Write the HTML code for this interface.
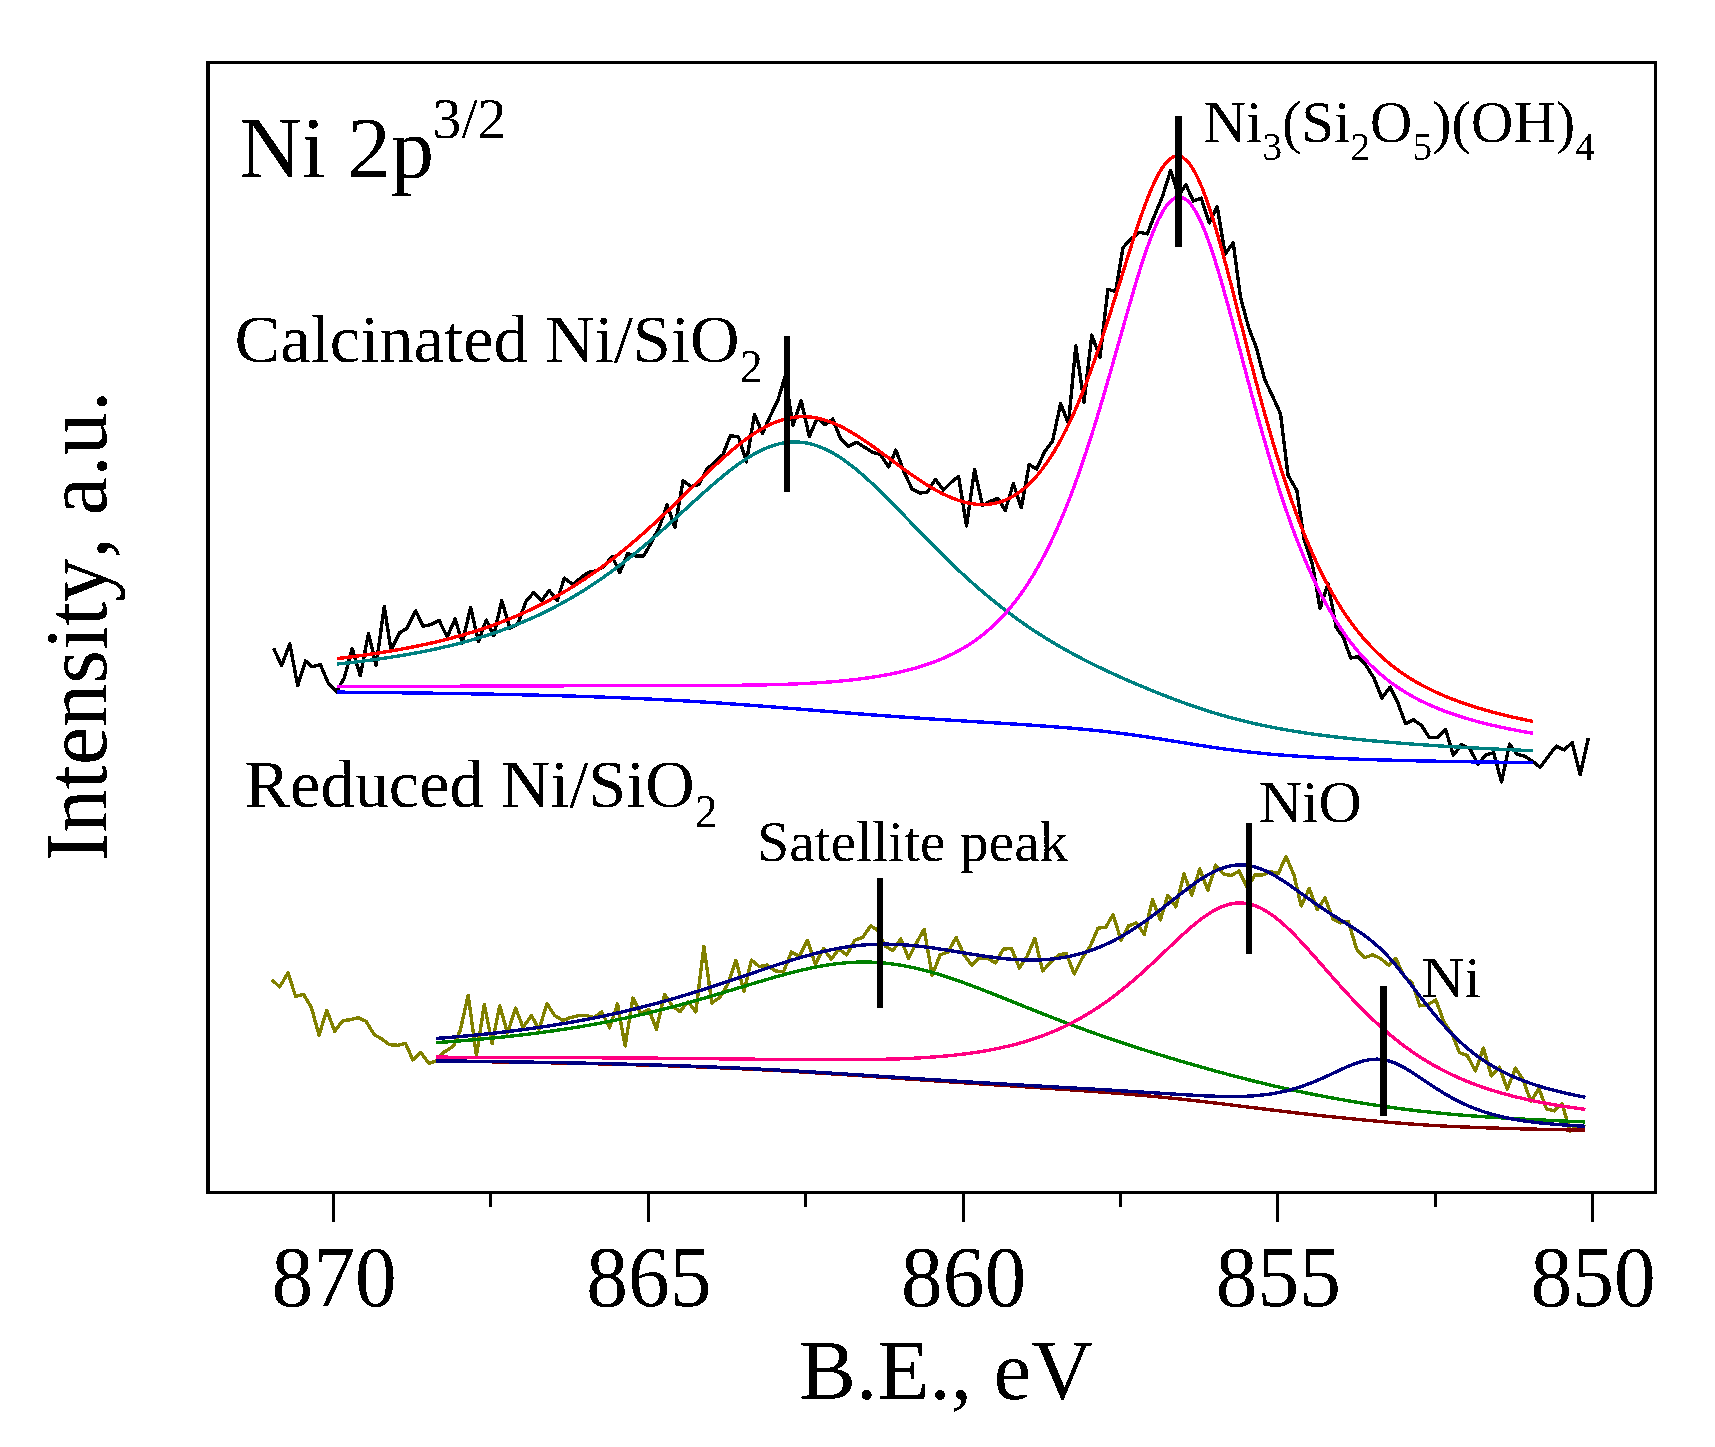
<!DOCTYPE html>
<html><head><meta charset="utf-8"><title>Ni 2p XPS</title>
<style>
html,body{margin:0;padding:0;background:#fff;}
svg{display:block;}
text{filter:url(#bin);font-family:"Liberation Serif","Times New Roman",serif;fill:#000;font-kerning:none;font-variant-ligatures:none;}
.c{shape-rendering:crispEdges;fill:none;stroke-width:3.4;stroke-linejoin:miter;stroke-linecap:butt;}
.n{shape-rendering:crispEdges;fill:none;stroke-width:3.4;stroke-linejoin:round;stroke-linecap:butt;}
.k{fill:#000;stroke:none;}
</style></head><body>
<svg width="1715" height="1447" viewBox="0 0 1715 1447">
<defs><filter id="bin" x="-5%" y="-20%" width="110%" height="140%" color-interpolation-filters="sRGB"><feComponentTransfer><feFuncA type="discrete" tableValues="0 1"/></feComponentTransfer></filter></defs>
<rect x="0" y="0" width="1715" height="1447" fill="#fff"/>
<path class="n" stroke="#000" d="M273.5,648.1 L281.6,665.6 L289.8,643.7 L297.7,685.7 L305.5,660.9 L312.2,666.8 L320.4,664.7 L328.3,683.1 L336.4,691.8 L344.3,677.8 L352.2,648.7 L360.3,675.8 L368.5,633.5 L376.1,665.3 L384.3,606.4 L391.0,650.1 L399.7,632.7 L407.0,628.3 L415.7,610.8 L423.0,626.2 L430.3,624.8 L439.1,620.4 L447.2,637.0 L455.1,619.0 L462.4,642.9 L470.6,607.3 L478.4,641.4 L486.3,620.1 L493.9,635.6 L501.7,600.6 L509.9,628.3 L517.8,623.9 L525.9,601.5 L533.8,592.4 L541.7,600.6 L549.3,590.4 L557.1,600.6 L564.4,578.1 L572.6,584.5 L580.5,578.1 L588.3,572.3 L596.5,570.8 L603.8,566.5 L612.2,556.6 L619.8,572.6 L627.7,553.6 L635.6,556.0 L643.7,556.0 L651.6,542.0 L659.8,525.9 L667.1,505.0 L674.9,527.4 L683.1,480.8 L691.0,486.6 L699.1,484.3 L707.0,469.1 L715.2,461.8 L723.0,454.5 L730.3,435.6 L738.5,437.0 L746.4,461.8 L754.5,414.3 L762.4,433.5 L770.6,415.2 L777.8,400.6 L785.1,376.4 L793.0,425.4 L801.2,400.6 L809.3,436.4 L817.2,418.1 L825.1,424.8 L832.7,419.0 L840.5,438.5 L848.4,446.4 L856.6,442.3 L864.4,447.2 L872.6,452.2 L880.5,454.5 L888.6,466.8 L895.9,450.1 L904.1,472.0 L912.0,488.9 L919.8,493.0 L927.1,492.4 L935.3,479.3 L943.4,490.1 L951.3,482.2 L958.6,476.4 L966.5,525.9 L974.6,469.7 L982.5,505.5 L990.7,501.2 L998.0,498.3 L1005.2,510.5 L1013.4,483.7 L1021.3,507.6 L1029.2,464.7 L1036.7,469.1 L1044.6,451.6 L1052.5,441.4 L1060.6,403.5 L1068.5,423.9 L1075.8,345.9 L1084.0,402.2 L1091.8,335.1 L1100.0,357.0 L1107.9,289.3 L1115.7,291.4 L1123.0,247.6 L1131.2,238.9 L1139.1,232.2 L1147.2,233.9 L1154.5,215.6 L1162.4,196.6 L1170.6,170.4 L1178.4,195.2 L1186.0,185.0 L1193.3,201.0 L1201.2,198.1 L1209.3,222.9 L1217.2,206.8 L1225.1,254.1 L1233.2,242.7 L1240.5,297.2 L1248.7,327.8 L1256.6,348.2 L1264.4,378.8 L1272.6,396.3 L1280.5,413.8 L1288.0,475.2 L1296.8,490.4 L1304.1,539.9 L1312.2,563.3 L1320.1,608.5 L1328.0,583.7 L1336.2,627.4 L1343.4,637.6 L1350.7,658.0 L1358.0,656.6 L1365.9,665.3 L1374.1,678.4 L1381.9,698.0 L1390.1,687.2 L1398.0,703.2 L1405.5,723.6 L1413.4,719.8 L1421.3,725.1 L1429.4,737.6 L1437.3,737.6 L1445.5,729.4 L1453.4,755.1 L1461.5,744.6 L1469.7,748.4 L1478.1,764.4 L1485.4,755.1 L1493.6,752.8 L1501.5,781.9 L1509.6,744.0 L1516.9,754.2 L1525.1,756.3 L1532.9,761.5 L1540.2,767.3 L1548.4,756.3 L1556.3,746.1 L1564.1,749.9 L1572.3,742.6 L1580.2,774.6 L1588.3,738.2"/>
<path class="c" stroke="#0000ff" d="M336.90,692.12 C339.56,692.15 342.22,692.17 344.87,692.20 C347.53,692.22 350.19,692.25 352.85,692.28 C355.51,692.30 358.16,692.33 360.82,692.36 C363.48,692.38 366.14,692.41 368.80,692.44 C371.45,692.47 374.11,692.49 376.77,692.52 C379.43,692.55 382.09,692.58 384.74,692.61 C387.40,692.64 390.06,692.67 392.72,692.70 C395.38,692.73 398.03,692.76 400.69,692.80 C403.35,692.83 406.01,692.86 408.67,692.89 C411.32,692.93 413.98,692.96 416.64,693.00 C419.30,693.03 421.96,693.07 424.61,693.10 C427.27,693.14 429.93,693.17 432.59,693.21 C435.25,693.25 437.90,693.29 440.56,693.32 C443.22,693.36 445.88,693.40 448.54,693.44 C451.19,693.48 453.85,693.52 456.51,693.57 C459.17,693.61 461.83,693.65 464.48,693.69 C467.14,693.74 469.80,693.78 472.46,693.83 C475.12,693.87 477.77,693.92 480.43,693.97 C483.09,694.01 485.75,694.06 488.41,694.11 C491.06,694.16 493.72,694.21 496.38,694.26 C499.04,694.32 501.70,694.37 504.35,694.42 C507.01,694.48 509.67,694.53 512.33,694.59 C514.99,694.64 517.64,694.70 520.30,694.76 C522.96,694.82 525.62,694.88 528.28,694.94 C530.93,695.01 533.59,695.07 536.25,695.13 C538.91,695.20 541.57,695.27 544.22,695.33 C546.88,695.40 549.54,695.47 552.20,695.54 C554.86,695.61 557.51,695.69 560.17,695.76 C562.83,695.84 565.49,695.91 568.15,695.99 C570.80,696.07 573.46,696.15 576.12,696.23 C578.78,696.31 581.44,696.40 584.09,696.48 C586.75,696.57 589.41,696.66 592.07,696.75 C594.73,696.84 597.38,696.93 600.04,697.03 C602.70,697.12 605.36,697.22 608.02,697.32 C610.67,697.42 613.33,697.52 615.99,697.62 C618.65,697.73 621.31,697.83 623.96,697.94 C626.62,698.05 629.28,698.16 631.94,698.28 C634.60,698.39 637.25,698.51 639.91,698.63 C642.57,698.75 645.23,698.87 647.89,698.99 C650.54,699.12 653.20,699.24 655.86,699.38 C658.52,699.51 661.18,699.64 663.83,699.78 C666.49,699.91 669.15,700.05 671.81,700.19 C674.47,700.34 677.12,700.48 679.78,700.63 C682.44,700.78 685.10,700.93 687.76,701.08 C690.41,701.24 693.07,701.39 695.73,701.55 C698.39,701.71 701.05,701.88 703.70,702.04 C706.36,702.21 709.02,702.38 711.68,702.55 C714.34,702.72 716.99,702.90 719.65,703.08 C722.31,703.26 724.97,703.44 727.63,703.62 C730.28,703.80 732.94,703.99 735.60,704.18 C738.26,704.37 740.92,704.56 743.57,704.75 C746.23,704.95 748.89,705.15 751.55,705.34 C754.21,705.54 756.86,705.74 759.52,705.95 C762.18,706.15 764.84,706.36 767.50,706.56 C770.15,706.77 772.81,706.98 775.47,707.19 C778.13,707.40 780.79,707.61 783.44,707.82 C786.10,708.03 788.76,708.25 791.42,708.46 C794.08,708.68 796.73,708.89 799.39,709.11 C802.05,709.32 804.71,709.54 807.37,709.75 C810.02,709.97 812.68,710.19 815.34,710.40 C818.00,710.62 820.66,710.83 823.31,711.05 C825.97,711.26 828.63,711.48 831.29,711.69 C833.95,711.90 836.60,712.11 839.26,712.33 C841.92,712.54 844.58,712.75 847.24,712.96 C849.89,713.16 852.55,713.37 855.21,713.58 C857.87,713.78 860.53,713.99 863.18,714.19 C865.84,714.39 868.50,714.59 871.16,714.79 C873.82,714.99 876.47,715.19 879.13,715.38 C881.79,715.58 884.45,715.77 887.11,715.96 C889.76,716.15 892.42,716.34 895.08,716.53 C897.74,716.72 900.40,716.90 903.05,717.08 C905.71,717.27 908.37,717.45 911.03,717.63 C913.69,717.81 916.34,717.99 919.00,718.16 C921.66,718.34 924.32,718.51 926.98,718.68 C929.63,718.86 932.29,719.03 934.95,719.20 C937.61,719.37 940.27,719.53 942.92,719.70 C945.58,719.87 948.24,720.03 950.90,720.20 C953.56,720.36 956.21,720.52 958.87,720.69 C961.53,720.85 964.19,721.01 966.85,721.17 C969.50,721.33 972.16,721.49 974.82,721.65 C977.48,721.81 980.14,721.97 982.79,722.13 C985.45,722.29 988.11,722.45 990.77,722.61 C993.43,722.78 996.08,722.94 998.74,723.10 C1001.40,723.26 1004.06,723.43 1006.72,723.59 C1009.37,723.76 1012.03,723.92 1014.69,724.09 C1017.35,724.26 1020.01,724.43 1022.66,724.60 C1025.32,724.78 1027.98,724.95 1030.64,725.13 C1033.30,725.31 1035.95,725.49 1038.61,725.68 C1041.27,725.86 1043.93,726.05 1046.59,726.24 C1049.24,726.44 1051.90,726.64 1054.56,726.84 C1057.22,727.04 1059.88,727.25 1062.53,727.46 C1065.19,727.68 1067.85,727.90 1070.51,728.12 C1073.17,728.35 1075.82,728.58 1078.48,728.82 C1081.14,729.06 1083.80,729.31 1086.46,729.57 C1089.11,729.82 1091.77,730.09 1094.43,730.36 C1097.09,730.63 1099.75,730.91 1102.40,731.20 C1105.06,731.49 1107.72,731.79 1110.38,732.10 C1113.04,732.40 1115.69,732.72 1118.35,733.05 C1121.01,733.38 1123.67,733.72 1126.33,734.06 C1128.98,734.41 1131.64,734.77 1134.30,735.14 C1136.96,735.50 1139.62,735.88 1142.27,736.26 C1144.93,736.65 1147.59,737.04 1150.25,737.45 C1152.91,737.85 1155.56,738.26 1158.22,738.67 C1160.88,739.09 1163.54,739.51 1166.20,739.93 C1168.85,740.36 1171.51,740.79 1174.17,741.22 C1176.83,741.65 1179.49,742.08 1182.14,742.51 C1184.80,742.95 1187.46,743.38 1190.12,743.80 C1192.78,744.23 1195.43,744.65 1198.09,745.07 C1200.75,745.49 1203.41,745.90 1206.07,746.31 C1208.72,746.71 1211.38,747.11 1214.04,747.49 C1216.70,747.88 1219.36,748.26 1222.01,748.63 C1224.67,749.00 1227.33,749.35 1229.99,749.70 C1232.65,750.05 1235.30,750.38 1237.96,750.71 C1240.62,751.03 1243.28,751.34 1245.94,751.65 C1248.59,751.95 1251.25,752.24 1253.91,752.52 C1256.57,752.80 1259.23,753.07 1261.88,753.32 C1264.54,753.58 1267.20,753.83 1269.86,754.07 C1272.52,754.31 1275.17,754.54 1277.83,754.75 C1280.49,754.97 1283.15,755.18 1285.81,755.38 C1288.46,755.58 1291.12,755.78 1293.78,755.96 C1296.44,756.15 1299.10,756.32 1301.75,756.49 C1304.41,756.66 1307.07,756.82 1309.73,756.98 C1312.39,757.13 1315.04,757.28 1317.70,757.42 C1320.36,757.56 1323.02,757.70 1325.68,757.83 C1328.33,757.96 1330.99,758.09 1333.65,758.21 C1336.31,758.33 1338.97,758.44 1341.62,758.55 C1344.28,758.66 1346.94,758.77 1349.60,758.87 C1352.26,758.97 1354.91,759.07 1357.57,759.17 C1360.23,759.26 1362.89,759.35 1365.55,759.44 C1368.20,759.53 1370.86,759.61 1373.52,759.69 C1376.18,759.77 1378.84,759.85 1381.49,759.93 C1384.15,760.01 1386.81,760.08 1389.47,760.15 C1392.13,760.22 1394.78,760.29 1397.44,760.36 C1400.10,760.42 1402.76,760.49 1405.42,760.55 C1408.07,760.62 1410.73,760.68 1413.39,760.74 C1416.05,760.80 1418.71,760.85 1421.36,760.91 C1424.02,760.97 1426.68,761.02 1429.34,761.07 C1432.00,761.13 1434.65,761.18 1437.31,761.23 C1439.97,761.28 1442.63,761.33 1445.29,761.38 C1447.94,761.42 1450.60,761.47 1453.26,761.52 C1455.92,761.56 1458.58,761.61 1461.23,761.65 C1463.89,761.70 1466.55,761.74 1469.21,761.78 C1471.87,761.82 1474.52,761.86 1477.18,761.90 C1479.84,761.94 1482.50,761.98 1485.16,762.02 C1487.81,762.06 1490.47,762.10 1493.13,762.13 C1495.79,762.17 1498.45,762.21 1501.10,762.24 C1503.76,762.28 1506.42,762.31 1509.08,762.35 C1511.74,762.38 1514.39,762.41 1517.05,762.45 C1519.71,762.48 1522.37,762.51 1525.03,762.54 C1527.68,762.57 1530.34,762.60 1533.00,762.63"/>
<path class="c" stroke="#008080" d="M336.90,664.07 C339.56,663.79 342.22,663.51 344.87,663.22 C347.53,662.92 350.19,662.62 352.85,662.31 C355.51,662.00 358.16,661.68 360.82,661.35 C363.48,661.02 366.14,660.68 368.80,660.33 C371.45,659.99 374.11,659.63 376.77,659.26 C379.43,658.89 382.09,658.51 384.74,658.12 C387.40,657.73 390.06,657.33 392.72,656.91 C395.38,656.50 398.03,656.07 400.69,655.63 C403.35,655.19 406.01,654.73 408.67,654.26 C411.32,653.80 413.98,653.31 416.64,652.82 C419.30,652.32 421.96,651.81 424.61,651.28 C427.27,650.75 429.93,650.20 432.59,649.64 C435.25,649.08 437.90,648.49 440.56,647.90 C443.22,647.30 445.88,646.68 448.54,646.04 C451.19,645.41 453.85,644.75 456.51,644.07 C459.17,643.39 461.83,642.69 464.48,641.97 C467.14,641.25 469.80,640.51 472.46,639.74 C475.12,638.98 477.77,638.19 480.43,637.37 C483.09,636.56 485.75,635.72 488.41,634.85 C491.06,633.99 493.72,633.10 496.38,632.18 C499.04,631.26 501.70,630.31 504.35,629.33 C507.01,628.36 509.67,627.35 512.33,626.32 C514.99,625.28 517.64,624.22 520.30,623.12 C522.96,622.03 525.62,620.90 528.28,619.74 C530.93,618.58 533.59,617.38 536.25,616.16 C538.91,614.93 541.57,613.67 544.22,612.37 C546.88,611.08 549.54,609.74 552.20,608.38 C554.86,607.01 557.51,605.60 560.17,604.16 C562.83,602.72 565.49,601.24 568.15,599.72 C570.80,598.21 573.46,596.65 576.12,595.06 C578.78,593.46 581.44,591.83 584.09,590.16 C586.75,588.49 589.41,586.78 592.07,585.02 C594.73,583.27 597.38,581.48 600.04,579.65 C602.70,577.82 605.36,575.95 608.02,574.05 C610.67,572.14 613.33,570.19 615.99,568.20 C618.65,566.22 621.31,564.19 623.96,562.13 C626.62,560.07 629.28,557.97 631.94,555.84 C634.60,553.71 637.25,551.54 639.91,549.34 C642.57,547.14 645.23,544.90 647.89,542.64 C650.54,540.38 653.20,538.08 655.86,535.77 C658.52,533.45 661.18,531.10 663.83,528.74 C666.49,526.38 669.15,523.99 671.81,521.60 C674.47,519.20 677.12,516.79 679.78,514.37 C682.44,511.95 685.10,509.53 687.76,507.10 C690.41,504.68 693.07,502.26 695.73,499.85 C698.39,497.45 701.05,495.05 703.70,492.68 C706.36,490.31 709.02,487.96 711.68,485.65 C714.34,483.34 716.99,481.06 719.65,478.84 C722.31,476.62 724.97,474.44 727.63,472.34 C730.28,470.23 732.94,468.19 735.60,466.23 C738.26,464.26 740.92,462.39 743.57,460.60 C746.23,458.82 748.89,457.13 751.55,455.56 C754.21,453.99 756.86,452.53 759.52,451.19 C762.18,449.86 764.84,448.65 767.50,447.59 C770.15,446.52 772.81,445.59 775.47,444.82 C778.13,444.04 780.79,443.42 783.44,442.96 C786.10,442.49 788.76,442.19 791.42,442.05 C794.08,441.91 796.73,441.93 799.39,442.12 C802.05,442.32 804.71,442.67 807.37,443.20 C810.02,443.72 812.68,444.41 815.34,445.25 C818.00,446.10 820.66,447.11 823.31,448.27 C825.97,449.42 828.63,450.73 831.29,452.18 C833.95,453.63 836.60,455.22 839.26,456.93 C841.92,458.65 844.58,460.49 847.24,462.44 C849.89,464.39 852.55,466.46 855.21,468.62 C857.87,470.77 860.53,473.03 863.18,475.36 C865.84,477.70 868.50,480.11 871.16,482.58 C873.82,485.06 876.47,487.60 879.13,490.18 C881.79,492.77 884.45,495.40 887.11,498.07 C889.76,500.74 892.42,503.44 895.08,506.16 C897.74,508.88 900.40,511.63 903.05,514.38 C905.71,517.13 908.37,519.89 911.03,522.65 C913.69,525.41 916.34,528.16 919.00,530.91 C921.66,533.66 924.32,536.40 926.98,539.11 C929.63,541.83 932.29,544.54 934.95,547.21 C937.61,549.89 940.27,552.54 942.92,555.17 C945.58,557.79 948.24,560.39 950.90,562.95 C953.56,565.52 956.21,568.05 958.87,570.54 C961.53,573.03 964.19,575.49 966.85,577.91 C969.50,580.33 972.16,582.72 974.82,585.06 C977.48,587.40 980.14,589.70 982.79,591.96 C985.45,594.23 988.11,596.45 990.77,598.63 C993.43,600.81 996.08,602.95 998.74,605.05 C1001.40,607.15 1004.06,609.21 1006.72,611.22 C1009.37,613.24 1012.03,615.22 1014.69,617.16 C1017.35,619.10 1020.01,620.99 1022.66,622.85 C1025.32,624.72 1027.98,626.54 1030.64,628.32 C1033.30,630.11 1035.95,631.85 1038.61,633.57 C1041.27,635.28 1043.93,636.96 1046.59,638.60 C1049.24,640.24 1051.90,641.85 1054.56,643.43 C1057.22,645.01 1059.88,646.55 1062.53,648.07 C1065.19,649.58 1067.85,651.07 1070.51,652.52 C1073.17,653.98 1075.82,655.41 1078.48,656.82 C1081.14,658.22 1083.80,659.60 1086.46,660.95 C1089.11,662.31 1091.77,663.64 1094.43,664.95 C1097.09,666.26 1099.75,667.54 1102.40,668.81 C1105.06,670.08 1107.72,671.33 1110.38,672.56 C1113.04,673.79 1115.69,675.00 1118.35,676.20 C1121.01,677.39 1123.67,678.57 1126.33,679.74 C1128.98,680.90 1131.64,682.05 1134.30,683.19 C1136.96,684.33 1139.62,685.45 1142.27,686.56 C1144.93,687.67 1147.59,688.77 1150.25,689.85 C1152.91,690.93 1155.56,692.00 1158.22,693.06 C1160.88,694.12 1163.54,695.16 1166.20,696.19 C1168.85,697.22 1171.51,698.24 1174.17,699.24 C1176.83,700.24 1179.49,701.22 1182.14,702.19 C1184.80,703.15 1187.46,704.10 1190.12,705.04 C1192.78,705.97 1195.43,706.88 1198.09,707.78 C1200.75,708.67 1203.41,709.54 1206.07,710.40 C1208.72,711.25 1211.38,712.08 1214.04,712.89 C1216.70,713.70 1219.36,714.49 1222.01,715.26 C1224.67,716.03 1227.33,716.78 1229.99,717.50 C1232.65,718.22 1235.30,718.93 1237.96,719.61 C1240.62,720.29 1243.28,720.95 1245.94,721.59 C1248.59,722.24 1251.25,722.86 1253.91,723.46 C1256.57,724.06 1259.23,724.64 1261.88,725.20 C1264.54,725.77 1267.20,726.31 1269.86,726.84 C1272.52,727.37 1275.17,727.88 1277.83,728.37 C1280.49,728.86 1283.15,729.34 1285.81,729.80 C1288.46,730.27 1291.12,730.71 1293.78,731.15 C1296.44,731.58 1299.10,732.00 1301.75,732.41 C1304.41,732.81 1307.07,733.21 1309.73,733.59 C1312.39,733.97 1315.04,734.34 1317.70,734.70 C1320.36,735.06 1323.02,735.41 1325.68,735.74 C1328.33,736.08 1330.99,736.41 1333.65,736.73 C1336.31,737.05 1338.97,737.36 1341.62,737.66 C1344.28,737.96 1346.94,738.25 1349.60,738.53 C1352.26,738.82 1354.91,739.09 1357.57,739.36 C1360.23,739.63 1362.89,739.90 1365.55,740.15 C1368.20,740.41 1370.86,740.66 1373.52,740.90 C1376.18,741.14 1378.84,741.38 1381.49,741.61 C1384.15,741.84 1386.81,742.07 1389.47,742.29 C1392.13,742.51 1394.78,742.72 1397.44,742.93 C1400.10,743.14 1402.76,743.35 1405.42,743.55 C1408.07,743.75 1410.73,743.95 1413.39,744.14 C1416.05,744.34 1418.71,744.53 1421.36,744.71 C1424.02,744.90 1426.68,745.08 1429.34,745.25 C1432.00,745.43 1434.65,745.61 1437.31,745.78 C1439.97,745.95 1442.63,746.11 1445.29,746.28 C1447.94,746.44 1450.60,746.60 1453.26,746.76 C1455.92,746.92 1458.58,747.07 1461.23,747.23 C1463.89,747.38 1466.55,747.53 1469.21,747.67 C1471.87,747.82 1474.52,747.96 1477.18,748.11 C1479.84,748.25 1482.50,748.39 1485.16,748.52 C1487.81,748.66 1490.47,748.79 1493.13,748.92 C1495.79,749.06 1498.45,749.19 1501.10,749.31 C1503.76,749.44 1506.42,749.57 1509.08,749.69 C1511.74,749.81 1514.39,749.93 1517.05,750.05 C1519.71,750.17 1522.37,750.29 1525.03,750.41 C1527.68,750.52 1530.34,750.64 1533.00,750.75"/>
<path class="c" stroke="#ff00ff" d="M336.90,686.69 C339.56,686.68 342.22,686.67 344.87,686.66 C347.53,686.65 350.19,686.64 352.85,686.63 C355.51,686.62 358.16,686.61 360.82,686.60 C363.48,686.59 366.14,686.58 368.80,686.57 C371.45,686.56 374.11,686.55 376.77,686.54 C379.43,686.53 382.09,686.52 384.74,686.51 C387.40,686.50 390.06,686.49 392.72,686.48 C395.38,686.47 398.03,686.46 400.69,686.45 C403.35,686.44 406.01,686.43 408.67,686.42 C411.32,686.41 413.98,686.40 416.64,686.39 C419.30,686.37 421.96,686.36 424.61,686.35 C427.27,686.34 429.93,686.33 432.59,686.32 C435.25,686.31 437.90,686.30 440.56,686.29 C443.22,686.28 445.88,686.26 448.54,686.25 C451.19,686.24 453.85,686.23 456.51,686.22 C459.17,686.21 461.83,686.20 464.48,686.19 C467.14,686.18 469.80,686.16 472.46,686.15 C475.12,686.14 477.77,686.13 480.43,686.12 C483.09,686.11 485.75,686.10 488.41,686.09 C491.06,686.08 493.72,686.06 496.38,686.05 C499.04,686.04 501.70,686.03 504.35,686.02 C507.01,686.01 509.67,686.00 512.33,685.99 C514.99,685.98 517.64,685.97 520.30,685.96 C522.96,685.95 525.62,685.94 528.28,685.93 C530.93,685.92 533.59,685.91 536.25,685.90 C538.91,685.89 541.57,685.88 544.22,685.87 C546.88,685.86 549.54,685.85 552.20,685.84 C554.86,685.84 557.51,685.83 560.17,685.82 C562.83,685.81 565.49,685.80 568.15,685.79 C570.80,685.79 573.46,685.78 576.12,685.77 C578.78,685.76 581.44,685.76 584.09,685.75 C586.75,685.74 589.41,685.74 592.07,685.73 C594.73,685.72 597.38,685.72 600.04,685.71 C602.70,685.70 605.36,685.70 608.02,685.69 C610.67,685.69 613.33,685.68 615.99,685.68 C618.65,685.67 621.31,685.67 623.96,685.66 C626.62,685.66 629.28,685.65 631.94,685.65 C634.60,685.64 637.25,685.64 639.91,685.63 C642.57,685.63 645.23,685.62 647.89,685.62 C650.54,685.62 653.20,685.61 655.86,685.61 C658.52,685.60 661.18,685.60 663.83,685.59 C666.49,685.59 669.15,685.58 671.81,685.58 C674.47,685.57 677.12,685.57 679.78,685.56 C682.44,685.56 685.10,685.55 687.76,685.54 C690.41,685.54 693.07,685.53 695.73,685.52 C698.39,685.51 701.05,685.50 703.70,685.49 C706.36,685.48 709.02,685.47 711.68,685.45 C714.34,685.44 716.99,685.42 719.65,685.41 C722.31,685.39 724.97,685.37 727.63,685.35 C730.28,685.33 732.94,685.30 735.60,685.28 C738.26,685.25 740.92,685.22 743.57,685.19 C746.23,685.16 748.89,685.12 751.55,685.08 C754.21,685.04 756.86,685.00 759.52,684.95 C762.18,684.90 764.84,684.84 767.50,684.79 C770.15,684.73 772.81,684.66 775.47,684.59 C778.13,684.52 780.79,684.44 783.44,684.36 C786.10,684.28 788.76,684.18 791.42,684.08 C794.08,683.99 796.73,683.88 799.39,683.76 C802.05,683.64 804.71,683.52 807.37,683.38 C810.02,683.24 812.68,683.10 815.34,682.94 C818.00,682.78 820.66,682.61 823.31,682.43 C825.97,682.24 828.63,682.05 831.29,681.84 C833.95,681.63 836.60,681.40 839.26,681.16 C841.92,680.92 844.58,680.66 847.24,680.39 C849.89,680.12 852.55,679.82 855.21,679.51 C857.87,679.20 860.53,678.87 863.18,678.52 C865.84,678.17 868.50,677.80 871.16,677.40 C873.82,677.00 876.47,676.58 879.13,676.14 C881.79,675.69 884.45,675.22 887.11,674.72 C889.76,674.21 892.42,673.68 895.08,673.12 C897.74,672.55 900.40,671.95 903.05,671.32 C905.71,670.69 908.37,670.02 911.03,669.30 C913.69,668.59 916.34,667.84 919.00,667.03 C921.66,666.23 924.32,665.39 926.98,664.48 C929.63,663.58 932.29,662.63 934.95,661.61 C937.61,660.60 940.27,659.52 942.92,658.38 C945.58,657.23 948.24,656.02 950.90,654.73 C953.56,653.44 956.21,652.07 958.87,650.61 C961.53,649.15 964.19,647.60 966.85,645.95 C969.50,644.30 972.16,642.55 974.82,640.69 C977.48,638.83 980.14,636.85 982.79,634.74 C985.45,632.63 988.11,630.39 990.77,628.01 C993.43,625.63 996.08,623.11 998.74,620.42 C1001.40,617.73 1004.06,614.88 1006.72,611.86 C1009.37,608.83 1012.03,605.62 1014.69,602.22 C1017.35,598.82 1020.01,595.22 1022.66,591.41 C1025.32,587.59 1027.98,583.56 1030.64,579.30 C1033.30,575.04 1035.95,570.55 1038.61,565.80 C1041.27,561.06 1043.93,556.07 1046.59,550.81 C1049.24,545.55 1051.90,540.03 1054.56,534.23 C1057.22,528.43 1059.88,522.36 1062.53,516.00 C1065.19,509.64 1067.85,502.99 1070.51,496.06 C1073.17,489.13 1075.82,481.91 1078.48,474.41 C1081.14,466.90 1083.80,459.12 1086.46,451.06 C1089.11,443.01 1091.77,434.69 1094.43,426.13 C1097.09,417.57 1099.75,408.77 1102.40,399.77 C1105.06,390.78 1107.72,381.60 1110.38,372.30 C1113.04,363.00 1115.69,353.57 1118.35,344.13 C1121.01,334.69 1123.67,325.22 1126.33,315.86 C1128.98,306.51 1131.64,297.26 1134.30,288.29 C1136.96,279.32 1139.62,270.62 1142.27,262.38 C1144.93,254.14 1147.59,246.37 1150.25,239.27 C1152.91,232.17 1155.56,225.73 1158.22,220.17 C1160.88,214.61 1163.54,209.91 1166.20,206.25 C1168.85,202.59 1171.51,199.96 1174.17,198.48 C1176.83,196.99 1179.49,196.65 1182.14,197.47 C1184.80,198.29 1187.46,200.28 1190.12,203.39 C1192.78,206.49 1195.43,210.70 1198.09,215.89 C1200.75,221.08 1203.41,227.25 1206.07,234.21 C1208.72,241.17 1211.38,248.92 1214.04,257.25 C1216.70,265.58 1219.36,274.50 1222.01,283.79 C1224.67,293.08 1227.33,302.76 1229.99,312.62 C1232.65,322.48 1235.30,332.54 1237.96,342.64 C1240.62,352.73 1243.28,362.87 1245.94,372.93 C1248.59,382.98 1251.25,392.96 1253.91,402.76 C1256.57,412.57 1259.23,422.21 1261.88,431.61 C1264.54,441.02 1267.20,450.20 1269.86,459.10 C1272.52,468.01 1275.17,476.64 1277.83,484.99 C1280.49,493.33 1283.15,501.38 1285.81,509.13 C1288.46,516.88 1291.12,524.33 1293.78,531.47 C1296.44,538.61 1299.10,545.45 1301.75,552.00 C1304.41,558.54 1307.07,564.79 1309.73,570.75 C1312.39,576.72 1315.04,582.40 1317.70,587.80 C1320.36,593.21 1323.02,598.35 1325.68,603.24 C1328.33,608.12 1330.99,612.75 1333.65,617.15 C1336.31,621.55 1338.97,625.71 1341.62,629.66 C1344.28,633.60 1346.94,637.33 1349.60,640.87 C1352.26,644.40 1354.91,647.74 1357.57,650.90 C1360.23,654.06 1362.89,657.05 1365.55,659.87 C1368.20,662.69 1370.86,665.36 1373.52,667.88 C1376.18,670.40 1378.84,672.78 1381.49,675.03 C1384.15,677.28 1386.81,679.41 1389.47,681.43 C1392.13,683.44 1394.78,685.34 1397.44,687.15 C1400.10,688.96 1402.76,690.66 1405.42,692.28 C1408.07,693.90 1410.73,695.44 1413.39,696.90 C1416.05,698.36 1418.71,699.74 1421.36,701.06 C1424.02,702.38 1426.68,703.63 1429.34,704.83 C1432.00,706.02 1434.65,707.16 1437.31,708.25 C1439.97,709.34 1442.63,710.37 1445.29,711.36 C1447.94,712.36 1450.60,713.30 1453.26,714.21 C1455.92,715.12 1458.58,715.99 1461.23,716.83 C1463.89,717.66 1466.55,718.47 1469.21,719.24 C1471.87,720.01 1474.52,720.75 1477.18,721.46 C1479.84,722.17 1482.50,722.86 1485.16,723.52 C1487.81,724.19 1490.47,724.82 1493.13,725.44 C1495.79,726.06 1498.45,726.65 1501.10,727.22 C1503.76,727.80 1506.42,728.35 1509.08,728.89 C1511.74,729.43 1514.39,729.95 1517.05,730.45 C1519.71,730.96 1522.37,731.44 1525.03,731.92 C1527.68,732.39 1530.34,732.84 1533.00,733.29"/>
<path class="c" stroke="#ff0000" d="M336.90,658.64 C339.56,658.33 342.22,658.01 344.87,657.68 C347.53,657.35 350.19,657.01 352.85,656.66 C355.51,656.32 358.16,655.96 360.82,655.60 C363.48,655.23 366.14,654.86 368.80,654.47 C371.45,654.08 374.11,653.69 376.77,653.28 C379.43,652.87 382.09,652.45 384.74,652.02 C387.40,651.59 390.06,651.15 392.72,650.69 C395.38,650.23 398.03,649.76 400.69,649.28 C403.35,648.80 406.01,648.30 408.67,647.79 C411.32,647.28 413.98,646.75 416.64,646.20 C419.30,645.66 421.96,645.10 424.61,644.53 C427.27,643.95 429.93,643.36 432.59,642.75 C435.25,642.14 437.90,641.51 440.56,640.86 C443.22,640.21 445.88,639.54 448.54,638.85 C451.19,638.16 453.85,637.46 456.51,636.73 C459.17,635.99 461.83,635.24 464.48,634.47 C467.14,633.69 469.80,632.89 472.46,632.07 C475.12,631.25 477.77,630.40 480.43,629.53 C483.09,628.65 485.75,627.75 488.41,626.83 C491.06,625.90 493.72,624.95 496.38,623.97 C499.04,622.98 501.70,621.97 504.35,620.93 C507.01,619.89 509.67,618.82 512.33,617.72 C514.99,616.62 517.64,615.49 520.30,614.32 C522.96,613.16 525.62,611.96 528.28,610.72 C530.93,609.49 533.59,608.23 536.25,606.92 C538.91,605.62 541.57,604.28 544.22,602.91 C546.88,601.54 549.54,600.13 552.20,598.68 C554.86,597.23 557.51,595.74 560.17,594.22 C562.83,592.69 565.49,591.13 568.15,589.53 C570.80,587.92 573.46,586.28 576.12,584.60 C578.78,582.91 581.44,581.19 584.09,579.42 C586.75,577.66 589.41,575.85 592.07,574.00 C594.73,572.16 597.38,570.27 600.04,568.34 C602.70,566.41 605.36,564.43 608.02,562.42 C610.67,560.41 613.33,558.35 615.99,556.26 C618.65,554.16 621.31,552.03 623.96,549.85 C626.62,547.68 629.28,545.46 631.94,543.21 C634.60,540.96 637.25,538.67 639.91,536.34 C642.57,534.02 645.23,531.66 647.89,529.27 C650.54,526.87 653.20,524.45 655.86,522.00 C658.52,519.54 661.18,517.06 663.83,514.56 C666.49,512.05 669.15,509.53 671.81,506.98 C674.47,504.44 677.12,501.87 679.78,499.30 C682.44,496.73 685.10,494.15 687.76,491.56 C690.41,488.98 693.07,486.40 695.73,483.82 C698.39,481.24 701.05,478.67 703.70,476.12 C706.36,473.58 709.02,471.05 711.68,468.55 C714.34,466.05 716.99,463.59 719.65,461.17 C722.31,458.75 724.97,456.38 727.63,454.07 C730.28,451.75 732.94,449.50 735.60,447.32 C738.26,445.15 740.92,443.05 743.57,441.04 C746.23,439.03 748.89,437.11 751.55,435.30 C754.21,433.48 756.86,431.78 759.52,430.19 C762.18,428.61 764.84,427.14 767.50,425.81 C770.15,424.48 772.81,423.28 775.47,422.22 C778.13,421.17 780.79,420.25 783.44,419.49 C786.10,418.73 788.76,418.12 791.42,417.67 C794.08,417.22 796.73,416.92 799.39,416.78 C802.05,416.64 804.71,416.65 807.37,416.82 C810.02,416.99 812.68,417.32 815.34,417.79 C818.00,418.26 820.66,418.89 823.31,419.65 C825.97,420.41 828.63,421.31 831.29,422.33 C833.95,423.36 836.60,424.51 839.26,425.77 C841.92,427.03 844.58,428.41 847.24,429.88 C849.89,431.35 852.55,432.91 855.21,434.55 C857.87,436.19 860.53,437.91 863.18,439.69 C865.84,441.47 868.50,443.31 871.16,445.19 C873.82,447.07 876.47,448.99 879.13,450.94 C881.79,452.88 884.45,454.85 887.11,456.82 C889.76,458.80 892.42,460.78 895.08,462.75 C897.74,464.72 900.40,466.68 903.05,468.61 C905.71,470.55 908.37,472.46 911.03,474.32 C913.69,476.19 916.34,478.01 919.00,479.78 C921.66,481.56 924.32,483.27 926.98,484.92 C929.63,486.56 932.29,488.14 934.95,489.63 C937.61,491.12 940.27,492.53 942.92,493.85 C945.58,495.16 948.24,496.38 950.90,497.49 C953.56,498.59 956.21,499.59 958.87,500.46 C961.53,501.34 964.19,502.09 966.85,502.70 C969.50,503.31 972.16,503.78 974.82,504.09 C977.48,504.41 980.14,504.58 982.79,504.57 C985.45,504.56 988.11,504.39 990.77,504.03 C993.43,503.67 996.08,503.12 998.74,502.37 C1001.40,501.62 1004.06,500.66 1006.72,499.49 C1009.37,498.32 1012.03,496.92 1014.69,495.29 C1017.35,493.66 1020.01,491.78 1022.66,489.66 C1025.32,487.53 1027.98,485.15 1030.64,482.49 C1033.30,479.84 1035.95,476.91 1038.61,473.69 C1041.27,470.47 1043.93,466.97 1046.59,463.16 C1049.24,459.35 1051.90,455.24 1054.56,450.82 C1057.22,446.40 1059.88,441.66 1062.53,436.60 C1065.19,431.54 1067.85,426.16 1070.51,420.46 C1073.17,414.76 1075.82,408.74 1078.48,402.40 C1081.14,396.06 1083.80,389.40 1086.46,382.45 C1089.11,375.49 1091.77,368.24 1094.43,360.72 C1097.09,353.19 1099.75,345.40 1102.40,337.39 C1105.06,329.37 1107.72,321.14 1110.38,312.76 C1113.04,304.38 1115.69,295.85 1118.35,287.28 C1121.01,278.70 1123.67,270.08 1126.33,261.54 C1128.98,253.00 1131.64,244.55 1134.30,236.34 C1136.96,228.14 1139.62,220.19 1142.27,212.68 C1144.93,205.16 1147.59,198.09 1150.25,191.67 C1152.91,185.25 1155.56,179.48 1158.22,174.56 C1160.88,169.64 1163.54,165.56 1166.20,162.51 C1168.85,159.45 1171.51,157.41 1174.17,156.49 C1176.83,155.58 1179.49,155.78 1182.14,157.14 C1184.80,158.50 1187.46,161.01 1190.12,164.62 C1192.78,168.23 1195.43,172.93 1198.09,178.60 C1200.75,184.26 1203.41,190.89 1206.07,198.30 C1208.72,205.71 1211.38,213.89 1214.04,222.65 C1216.70,231.40 1219.36,240.73 1222.01,250.42 C1224.67,260.12 1227.33,270.18 1229.99,280.42 C1232.65,290.66 1235.30,301.09 1237.96,311.54 C1240.62,322.00 1243.28,332.48 1245.94,342.88 C1248.59,353.27 1251.25,363.58 1253.91,373.70 C1256.57,383.83 1259.23,393.78 1261.88,403.49 C1264.54,413.20 1267.20,422.67 1269.86,431.87 C1272.52,441.07 1275.17,449.98 1277.83,458.60 C1280.49,467.22 1283.15,475.54 1285.81,483.55 C1288.46,491.56 1291.12,499.26 1293.78,506.66 C1296.44,514.05 1299.10,521.13 1301.75,527.91 C1304.41,534.70 1307.07,541.18 1309.73,547.37 C1312.39,553.56 1315.04,559.46 1317.70,565.08 C1320.36,570.71 1323.02,576.06 1325.68,581.15 C1328.33,586.24 1330.99,591.08 1333.65,595.67 C1336.31,600.27 1338.97,604.62 1341.62,608.76 C1344.28,612.90 1346.94,616.82 1349.60,620.53 C1352.26,624.25 1354.91,627.77 1357.57,631.10 C1360.23,634.44 1362.89,637.59 1365.55,640.58 C1368.20,643.57 1370.86,646.40 1373.52,649.08 C1376.18,651.77 1378.84,654.30 1381.49,656.71 C1384.15,659.12 1386.81,661.40 1389.47,663.56 C1392.13,665.73 1394.78,667.78 1397.44,669.73 C1400.10,671.67 1402.76,673.52 1405.42,675.28 C1408.07,677.04 1410.73,678.71 1413.39,680.31 C1416.05,681.90 1418.71,683.42 1421.36,684.86 C1424.02,686.31 1426.68,687.69 1429.34,689.01 C1432.00,690.33 1434.65,691.59 1437.31,692.80 C1439.97,694.00 1442.63,695.16 1445.29,696.26 C1447.94,697.37 1450.60,698.43 1453.26,699.46 C1455.92,700.48 1458.58,701.46 1461.23,702.40 C1463.89,703.35 1466.55,704.25 1469.21,705.13 C1471.87,706.01 1474.52,706.85 1477.18,707.66 C1479.84,708.48 1482.50,709.26 1485.16,710.03 C1487.81,710.79 1490.47,711.52 1493.13,712.23 C1495.79,712.94 1498.45,713.63 1501.10,714.30 C1503.76,714.96 1506.42,715.61 1509.08,716.24 C1511.74,716.86 1514.39,717.47 1517.05,718.06 C1519.71,718.65 1522.37,719.22 1525.03,719.78 C1527.68,720.34 1530.34,720.88 1533.00,721.40"/>
<path class="n" stroke="#808000" d="M272.0,979.7 L279.6,987.0 L288.0,973.0 L295.6,996.3 L303.5,994.3 L311.4,1007.4 L319.0,1035.1 L326.8,1010.3 L334.7,1031.3 L342.9,1020.5 L350.7,1019.7 L358.3,1017.6 L366.2,1021.4 L374.1,1034.5 L381.6,1038.9 L389.5,1044.7 L397.7,1045.3 L405.5,1043.3 L412.8,1059.9 L420.7,1052.6 L428.9,1063.4 L435.6,1061.3 L443.4,1052.6 L453.6,1045.9 L460.3,1030.1 L468.2,995.2 L476.4,1055.5 L484.3,1004.5 L492.1,1043.8 L499.7,1005.9 L507.6,1033.1 L515.5,1008.0 L523.0,1027.2 L531.5,1015.6 L539.1,1029.3 L546.9,1003.6 L554.8,1015.6 L563.0,1020.5 L570.3,1017.6 L578.4,1015.6 L586.3,1015.6 L594.2,1017.6 L601.7,1011.8 L609.6,1027.8 L617.5,1003.9 L625.1,1045.9 L632.9,998.1 L640.8,1013.2 L649.0,1009.7 L656.4,1029.3 L664.6,994.3 L672.4,1005.9 L680.0,1011.8 L687.9,1001.6 L695.8,1011.8 L703.9,946.2 L711.8,1003.0 L720.0,997.2 L727.8,984.1 L736.0,960.2 L743.9,991.4 L751.5,960.2 L759.3,966.6 L767.2,965.1 L775.4,971.0 L783.5,971.8 L791.4,952.0 L799.3,956.4 L807.4,940.3 L815.3,964.3 L823.5,948.5 L831.3,959.3 L838.9,949.1 L846.8,954.9 L854.7,940.3 L862.8,937.4 L870.7,925.8 L877.4,930.1 L885.3,946.2 L892.9,950.6 L900.7,938.9 L908.6,958.4 L916.2,943.3 L924.1,929.3 L932.2,975.3 L940.1,954.9 L948.0,952.0 L956.1,937.4 L964.0,954.9 L971.6,965.1 L979.4,957.8 L987.3,957.8 L995.5,963.1 L1003.4,949.1 L1011.5,948.5 L1019.4,968.0 L1027.0,956.4 L1034.8,938.3 L1042.7,971.0 L1050.9,962.2 L1058.7,954.9 L1066.3,953.5 L1074.2,973.9 L1082.4,957.8 L1090.2,946.2 L1098.1,928.1 L1105.8,927.2 L1113.1,914.7 L1121.0,940.3 L1128.6,925.8 L1136.4,922.9 L1144.3,934.5 L1152.5,899.5 L1160.3,919.9 L1167.9,895.2 L1175.8,906.8 L1184.0,873.9 L1191.8,895.2 L1199.7,868.9 L1207.9,890.2 L1215.7,865.1 L1223.3,873.9 L1231.2,875.6 L1239.1,871.0 L1247.2,887.9 L1255.1,874.8 L1262.7,874.8 L1270.6,871.8 L1278.4,873.3 L1286.0,856.4 L1293.9,874.8 L1301.2,905.9 L1309.3,888.5 L1317.2,909.7 L1325.1,898.1 L1333.2,919.4 L1340.5,922.9 L1348.4,921.4 L1356.6,949.1 L1364.4,957.8 L1372.6,954.9 L1380.5,958.4 L1388.6,965.1 L1395.9,958.4 L1404.1,976.8 L1412.0,982.6 L1419.8,1005.9 L1428.0,1004.5 L1435.9,1000.1 L1444.0,1022.0 L1451.9,1033.6 L1459.5,1052.6 L1467.3,1055.5 L1475.5,1071.0 L1483.4,1048.2 L1491.3,1075.9 L1499.4,1067.2 L1507.3,1089.0 L1515.5,1068.0 L1523.3,1080.3 L1530.9,1101.6 L1538.8,1088.5 L1546.6,1108.9 L1554.2,1110.9 L1562.1,1103.6 L1570.0,1131.3 L1578.1,1125.5 L1585.4,1126.9"/>
<path class="c" stroke="#800000" d="M436.20,1061.08 C438.86,1061.11 441.52,1061.14 444.18,1061.17 C446.84,1061.21 449.50,1061.24 452.16,1061.27 C454.82,1061.31 457.48,1061.34 460.14,1061.37 C462.80,1061.41 465.46,1061.44 468.12,1061.48 C470.78,1061.51 473.44,1061.55 476.10,1061.58 C478.76,1061.62 481.42,1061.66 484.08,1061.70 C486.74,1061.73 489.40,1061.77 492.06,1061.81 C494.72,1061.85 497.38,1061.89 500.04,1061.93 C502.70,1061.97 505.36,1062.01 508.02,1062.05 C510.69,1062.10 513.35,1062.14 516.01,1062.18 C518.67,1062.22 521.33,1062.27 523.99,1062.31 C526.65,1062.36 529.31,1062.40 531.97,1062.45 C534.63,1062.50 537.29,1062.54 539.95,1062.59 C542.61,1062.64 545.27,1062.69 547.93,1062.74 C550.59,1062.79 553.25,1062.84 555.91,1062.89 C558.57,1062.95 561.23,1063.00 563.89,1063.05 C566.55,1063.11 569.21,1063.16 571.87,1063.22 C574.53,1063.28 577.19,1063.33 579.85,1063.39 C582.51,1063.45 585.17,1063.51 587.83,1063.57 C590.49,1063.63 593.15,1063.69 595.81,1063.76 C598.47,1063.82 601.13,1063.88 603.79,1063.95 C606.45,1064.02 609.11,1064.08 611.77,1064.15 C614.43,1064.22 617.09,1064.29 619.75,1064.36 C622.41,1064.43 625.07,1064.50 627.73,1064.58 C630.39,1064.65 633.05,1064.73 635.71,1064.80 C638.37,1064.88 641.03,1064.96 643.69,1065.04 C646.35,1065.12 649.01,1065.20 651.67,1065.28 C654.34,1065.37 657.00,1065.45 659.66,1065.54 C662.32,1065.62 664.98,1065.71 667.64,1065.80 C670.30,1065.89 672.96,1065.98 675.62,1066.08 C678.28,1066.17 680.94,1066.26 683.60,1066.36 C686.26,1066.46 688.92,1066.56 691.58,1066.66 C694.24,1066.76 696.90,1066.86 699.56,1066.96 C702.22,1067.07 704.88,1067.18 707.54,1067.28 C710.20,1067.39 712.86,1067.50 715.52,1067.62 C718.18,1067.73 720.84,1067.84 723.50,1067.96 C726.16,1068.07 728.82,1068.19 731.48,1068.31 C734.14,1068.43 736.80,1068.56 739.46,1068.68 C742.12,1068.81 744.78,1068.93 747.44,1069.06 C750.10,1069.19 752.76,1069.32 755.42,1069.46 C758.08,1069.59 760.74,1069.73 763.40,1069.86 C766.06,1070.00 768.72,1070.14 771.38,1070.28 C774.04,1070.43 776.70,1070.57 779.36,1070.72 C782.02,1070.86 784.68,1071.01 787.34,1071.16 C790.00,1071.31 792.66,1071.46 795.33,1071.62 C797.99,1071.77 800.65,1071.93 803.31,1072.08 C805.97,1072.24 808.63,1072.40 811.29,1072.56 C813.95,1072.73 816.61,1072.89 819.27,1073.06 C821.93,1073.22 824.59,1073.39 827.25,1073.56 C829.91,1073.72 832.57,1073.89 835.23,1074.07 C837.89,1074.24 840.55,1074.41 843.21,1074.58 C845.87,1074.76 848.53,1074.93 851.19,1075.11 C853.85,1075.29 856.51,1075.46 859.17,1075.64 C861.83,1075.82 864.49,1076.00 867.15,1076.18 C869.81,1076.36 872.47,1076.54 875.13,1076.72 C877.79,1076.90 880.45,1077.09 883.11,1077.27 C885.77,1077.45 888.43,1077.63 891.09,1077.82 C893.75,1078.00 896.41,1078.18 899.07,1078.37 C901.73,1078.55 904.39,1078.74 907.05,1078.92 C909.71,1079.10 912.37,1079.29 915.03,1079.47 C917.69,1079.65 920.35,1079.84 923.01,1080.02 C925.67,1080.20 928.33,1080.38 930.99,1080.57 C933.65,1080.75 936.31,1080.93 938.98,1081.11 C941.64,1081.29 944.30,1081.47 946.96,1081.65 C949.62,1081.83 952.28,1082.01 954.94,1082.19 C957.60,1082.37 960.26,1082.55 962.92,1082.73 C965.58,1082.91 968.24,1083.09 970.90,1083.26 C973.56,1083.44 976.22,1083.62 978.88,1083.79 C981.54,1083.97 984.20,1084.15 986.86,1084.32 C989.52,1084.50 992.18,1084.67 994.84,1084.85 C997.50,1085.02 1000.16,1085.19 1002.82,1085.37 C1005.48,1085.54 1008.14,1085.72 1010.80,1085.89 C1013.46,1086.06 1016.12,1086.24 1018.78,1086.41 C1021.44,1086.59 1024.10,1086.76 1026.76,1086.93 C1029.42,1087.11 1032.08,1087.28 1034.74,1087.46 C1037.40,1087.63 1040.06,1087.81 1042.72,1087.98 C1045.38,1088.16 1048.04,1088.33 1050.70,1088.51 C1053.36,1088.69 1056.02,1088.87 1058.68,1089.05 C1061.34,1089.22 1064.00,1089.41 1066.66,1089.59 C1069.32,1089.77 1071.98,1089.95 1074.64,1090.14 C1077.30,1090.32 1079.96,1090.51 1082.62,1090.70 C1085.29,1090.89 1087.95,1091.08 1090.61,1091.27 C1093.27,1091.46 1095.93,1091.66 1098.59,1091.86 C1101.25,1092.05 1103.91,1092.25 1106.57,1092.46 C1109.23,1092.66 1111.89,1092.87 1114.55,1093.08 C1117.21,1093.29 1119.87,1093.50 1122.53,1093.71 C1125.19,1093.93 1127.85,1094.15 1130.51,1094.37 C1133.17,1094.60 1135.83,1094.83 1138.49,1095.06 C1141.15,1095.29 1143.81,1095.53 1146.47,1095.77 C1149.13,1096.01 1151.79,1096.25 1154.45,1096.50 C1157.11,1096.75 1159.77,1097.00 1162.43,1097.26 C1165.09,1097.52 1167.75,1097.79 1170.41,1098.05 C1173.07,1098.32 1175.73,1098.60 1178.39,1098.87 C1181.05,1099.15 1183.71,1099.44 1186.37,1099.72 C1189.03,1100.01 1191.69,1100.30 1194.35,1100.60 C1197.01,1100.90 1199.67,1101.20 1202.33,1101.51 C1204.99,1101.81 1207.65,1102.12 1210.31,1102.44 C1212.97,1102.75 1215.63,1103.07 1218.29,1103.39 C1220.95,1103.71 1223.61,1104.03 1226.28,1104.36 C1228.94,1104.68 1231.60,1105.01 1234.26,1105.34 C1236.92,1105.67 1239.58,1106.00 1242.24,1106.33 C1244.90,1106.66 1247.56,1106.99 1250.22,1107.32 C1252.88,1107.65 1255.54,1107.98 1258.20,1108.31 C1260.86,1108.64 1263.52,1108.97 1266.18,1109.30 C1268.84,1109.63 1271.50,1109.95 1274.16,1110.27 C1276.82,1110.60 1279.48,1110.92 1282.14,1111.23 C1284.80,1111.55 1287.46,1111.86 1290.12,1112.17 C1292.78,1112.49 1295.44,1112.79 1298.10,1113.10 C1300.76,1113.40 1303.42,1113.70 1306.08,1114.00 C1308.74,1114.30 1311.40,1114.59 1314.06,1114.88 C1316.72,1115.18 1319.38,1115.46 1322.04,1115.75 C1324.70,1116.03 1327.36,1116.32 1330.02,1116.59 C1332.68,1116.87 1335.34,1117.15 1338.00,1117.42 C1340.66,1117.70 1343.32,1117.97 1345.98,1118.23 C1348.64,1118.50 1351.30,1118.76 1353.96,1119.03 C1356.62,1119.29 1359.28,1119.55 1361.94,1119.80 C1364.60,1120.06 1367.26,1120.31 1369.92,1120.56 C1372.59,1120.81 1375.25,1121.05 1377.91,1121.29 C1380.57,1121.53 1383.23,1121.77 1385.89,1122.00 C1388.55,1122.23 1391.21,1122.45 1393.87,1122.67 C1396.53,1122.89 1399.19,1123.11 1401.85,1123.31 C1404.51,1123.52 1407.17,1123.72 1409.83,1123.91 C1412.49,1124.11 1415.15,1124.29 1417.81,1124.47 C1420.47,1124.65 1423.13,1124.83 1425.79,1124.99 C1428.45,1125.16 1431.11,1125.32 1433.77,1125.47 C1436.43,1125.63 1439.09,1125.77 1441.75,1125.92 C1444.41,1126.06 1447.07,1126.19 1449.73,1126.32 C1452.39,1126.45 1455.05,1126.58 1457.71,1126.70 C1460.37,1126.82 1463.03,1126.93 1465.69,1127.04 C1468.35,1127.15 1471.01,1127.26 1473.67,1127.36 C1476.33,1127.46 1478.99,1127.56 1481.65,1127.65 C1484.31,1127.75 1486.97,1127.84 1489.63,1127.93 C1492.29,1128.01 1494.95,1128.10 1497.61,1128.18 C1500.27,1128.26 1502.93,1128.34 1505.59,1128.41 C1508.25,1128.49 1510.91,1128.56 1513.58,1128.64 C1516.24,1128.71 1518.90,1128.78 1521.56,1128.84 C1524.22,1128.91 1526.88,1128.97 1529.54,1129.04 C1532.20,1129.10 1534.86,1129.16 1537.52,1129.22 C1540.18,1129.28 1542.84,1129.34 1545.50,1129.40 C1548.16,1129.45 1550.82,1129.51 1553.48,1129.56 C1556.14,1129.62 1558.80,1129.67 1561.46,1129.72 C1564.12,1129.77 1566.78,1129.82 1569.44,1129.87 C1572.10,1129.92 1574.76,1129.97 1577.42,1130.02 C1580.08,1130.06 1582.74,1130.11 1585.40,1130.16"/>
<path class="c" stroke="#008000" d="M436.20,1042.60 C438.86,1042.42 441.52,1042.24 444.18,1042.05 C446.84,1041.86 449.50,1041.67 452.16,1041.47 C454.82,1041.27 457.48,1041.07 460.14,1040.86 C462.80,1040.66 465.46,1040.44 468.12,1040.22 C470.78,1040.00 473.44,1039.78 476.10,1039.55 C478.76,1039.32 481.42,1039.08 484.08,1038.83 C486.74,1038.59 489.40,1038.34 492.06,1038.08 C494.72,1037.83 497.38,1037.56 500.04,1037.29 C502.70,1037.02 505.36,1036.74 508.02,1036.46 C510.69,1036.17 513.35,1035.88 516.01,1035.58 C518.67,1035.28 521.33,1034.97 523.99,1034.66 C526.65,1034.34 529.31,1034.02 531.97,1033.68 C534.63,1033.35 537.29,1033.01 539.95,1032.66 C542.61,1032.31 545.27,1031.95 547.93,1031.59 C550.59,1031.22 553.25,1030.84 555.91,1030.46 C558.57,1030.07 561.23,1029.68 563.89,1029.27 C566.55,1028.87 569.21,1028.46 571.87,1028.03 C574.53,1027.61 577.19,1027.18 579.85,1026.73 C582.51,1026.29 585.17,1025.83 587.83,1025.37 C590.49,1024.91 593.15,1024.43 595.81,1023.95 C598.47,1023.46 601.13,1022.96 603.79,1022.46 C606.45,1021.95 609.11,1021.43 611.77,1020.90 C614.43,1020.38 617.09,1019.84 619.75,1019.29 C622.41,1018.73 625.07,1018.17 627.73,1017.60 C630.39,1017.03 633.05,1016.44 635.71,1015.85 C638.37,1015.25 641.03,1014.64 643.69,1014.03 C646.35,1013.41 649.01,1012.78 651.67,1012.14 C654.34,1011.50 657.00,1010.85 659.66,1010.18 C662.32,1009.52 664.98,1008.85 667.64,1008.16 C670.30,1007.48 672.96,1006.79 675.62,1006.08 C678.28,1005.38 680.94,1004.66 683.60,1003.94 C686.26,1003.21 688.92,1002.48 691.58,1001.74 C694.24,1000.99 696.90,1000.24 699.56,999.48 C702.22,998.72 704.88,997.96 707.54,997.18 C710.20,996.41 712.86,995.63 715.52,994.84 C718.18,994.05 720.84,993.26 723.50,992.47 C726.16,991.67 728.82,990.87 731.48,990.07 C734.14,989.26 736.80,988.46 739.46,987.66 C742.12,986.85 744.78,986.05 747.44,985.24 C750.10,984.44 752.76,983.64 755.42,982.85 C758.08,982.05 760.74,981.26 763.40,980.48 C766.06,979.70 768.72,978.92 771.38,978.16 C774.04,977.39 776.70,976.64 779.36,975.91 C782.02,975.17 784.68,974.45 787.34,973.74 C790.00,973.04 792.66,972.35 795.33,971.69 C797.99,971.03 800.65,970.39 803.31,969.77 C805.97,969.16 808.63,968.57 811.29,968.01 C813.95,967.46 816.61,966.93 819.27,966.44 C821.93,965.95 824.59,965.49 827.25,965.07 C829.91,964.66 832.57,964.28 835.23,963.94 C837.89,963.60 840.55,963.30 843.21,963.05 C845.87,962.80 848.53,962.60 851.19,962.44 C853.85,962.28 856.51,962.17 859.17,962.11 C861.83,962.05 864.49,962.04 867.15,962.08 C869.81,962.12 872.47,962.22 875.13,962.36 C877.79,962.50 880.45,962.70 883.11,962.94 C885.77,963.18 888.43,963.47 891.09,963.81 C893.75,964.14 896.41,964.52 899.07,964.95 C901.73,965.38 904.39,965.85 907.05,966.36 C909.71,966.88 912.37,967.44 915.03,968.04 C917.69,968.63 920.35,969.27 923.01,969.95 C925.67,970.63 928.33,971.34 930.99,972.09 C933.65,972.83 936.31,973.61 938.98,974.42 C941.64,975.24 944.30,976.08 946.96,976.94 C949.62,977.81 952.28,978.71 954.94,979.62 C957.60,980.54 960.26,981.48 962.92,982.44 C965.58,983.40 968.24,984.37 970.90,985.37 C973.56,986.36 976.22,987.37 978.88,988.39 C981.54,989.41 984.20,990.44 986.86,991.49 C989.52,992.53 992.18,993.58 994.84,994.63 C997.50,995.69 1000.16,996.75 1002.82,997.82 C1005.48,998.88 1008.14,999.95 1010.80,1001.02 C1013.46,1002.09 1016.12,1003.16 1018.78,1004.23 C1021.44,1005.30 1024.10,1006.37 1026.76,1007.44 C1029.42,1008.50 1032.08,1009.56 1034.74,1010.62 C1037.40,1011.68 1040.06,1012.73 1042.72,1013.78 C1045.38,1014.83 1048.04,1015.87 1050.70,1016.91 C1053.36,1017.95 1056.02,1018.97 1058.68,1020.00 C1061.34,1021.02 1064.00,1022.03 1066.66,1023.04 C1069.32,1024.05 1071.98,1025.04 1074.64,1026.03 C1077.30,1027.02 1079.96,1028.00 1082.62,1028.98 C1085.29,1029.95 1087.95,1030.91 1090.61,1031.87 C1093.27,1032.82 1095.93,1033.77 1098.59,1034.71 C1101.25,1035.64 1103.91,1036.57 1106.57,1037.49 C1109.23,1038.41 1111.89,1039.32 1114.55,1040.22 C1117.21,1041.13 1119.87,1042.02 1122.53,1042.91 C1125.19,1043.79 1127.85,1044.67 1130.51,1045.54 C1133.17,1046.41 1135.83,1047.27 1138.49,1048.12 C1141.15,1048.98 1143.81,1049.82 1146.47,1050.66 C1149.13,1051.50 1151.79,1052.33 1154.45,1053.16 C1157.11,1053.99 1159.77,1054.80 1162.43,1055.62 C1165.09,1056.43 1167.75,1057.23 1170.41,1058.03 C1173.07,1058.83 1175.73,1059.62 1178.39,1060.41 C1181.05,1061.20 1183.71,1061.98 1186.37,1062.76 C1189.03,1063.53 1191.69,1064.30 1194.35,1065.07 C1197.01,1065.83 1199.67,1066.59 1202.33,1067.34 C1204.99,1068.09 1207.65,1068.84 1210.31,1069.58 C1212.97,1070.32 1215.63,1071.06 1218.29,1071.79 C1220.95,1072.51 1223.61,1073.24 1226.28,1073.95 C1228.94,1074.67 1231.60,1075.38 1234.26,1076.08 C1236.92,1076.78 1239.58,1077.47 1242.24,1078.16 C1244.90,1078.85 1247.56,1079.52 1250.22,1080.19 C1252.88,1080.87 1255.54,1081.53 1258.20,1082.18 C1260.86,1082.83 1263.52,1083.48 1266.18,1084.11 C1268.84,1084.75 1271.50,1085.37 1274.16,1085.99 C1276.82,1086.60 1279.48,1087.21 1282.14,1087.81 C1284.80,1088.41 1287.46,1088.99 1290.12,1089.57 C1292.78,1090.15 1295.44,1090.72 1298.10,1091.27 C1300.76,1091.83 1303.42,1092.38 1306.08,1092.92 C1308.74,1093.46 1311.40,1093.99 1314.06,1094.52 C1316.72,1095.04 1319.38,1095.55 1322.04,1096.06 C1324.70,1096.56 1327.36,1097.06 1330.02,1097.55 C1332.68,1098.03 1335.34,1098.51 1338.00,1098.99 C1340.66,1099.46 1343.32,1099.93 1345.98,1100.38 C1348.64,1100.84 1351.30,1101.29 1353.96,1101.74 C1356.62,1102.18 1359.28,1102.61 1361.94,1103.04 C1364.60,1103.47 1367.26,1103.89 1369.92,1104.31 C1372.59,1104.72 1375.25,1105.13 1377.91,1105.53 C1380.57,1105.92 1383.23,1106.31 1385.89,1106.69 C1388.55,1107.08 1391.21,1107.45 1393.87,1107.81 C1396.53,1108.18 1399.19,1108.53 1401.85,1108.87 C1404.51,1109.22 1407.17,1109.55 1409.83,1109.88 C1412.49,1110.20 1415.15,1110.52 1417.81,1110.83 C1420.47,1111.13 1423.13,1111.43 1425.79,1111.72 C1428.45,1112.00 1431.11,1112.28 1433.77,1112.55 C1436.43,1112.82 1439.09,1113.08 1441.75,1113.33 C1444.41,1113.59 1447.07,1113.83 1449.73,1114.07 C1452.39,1114.30 1455.05,1114.53 1457.71,1114.75 C1460.37,1114.97 1463.03,1115.19 1465.69,1115.40 C1468.35,1115.61 1471.01,1115.81 1473.67,1116.00 C1476.33,1116.20 1478.99,1116.39 1481.65,1116.57 C1484.31,1116.76 1486.97,1116.94 1489.63,1117.11 C1492.29,1117.29 1494.95,1117.46 1497.61,1117.62 C1500.27,1117.79 1502.93,1117.95 1505.59,1118.11 C1508.25,1118.26 1510.91,1118.42 1513.58,1118.57 C1516.24,1118.71 1518.90,1118.86 1521.56,1119.00 C1524.22,1119.14 1526.88,1119.28 1529.54,1119.42 C1532.20,1119.55 1534.86,1119.69 1537.52,1119.82 C1540.18,1119.95 1542.84,1120.07 1545.50,1120.20 C1548.16,1120.32 1550.82,1120.45 1553.48,1120.56 C1556.14,1120.68 1558.80,1120.80 1561.46,1120.92 C1564.12,1121.03 1566.78,1121.14 1569.44,1121.25 C1572.10,1121.36 1574.76,1121.47 1577.42,1121.58 C1580.08,1121.69 1582.74,1121.79 1585.40,1121.89"/>
<path class="c" stroke="#ff0080" d="M436.20,1057.17 C438.86,1057.18 441.52,1057.18 444.18,1057.19 C446.84,1057.20 449.50,1057.20 452.16,1057.21 C454.82,1057.21 457.48,1057.22 460.14,1057.23 C462.80,1057.23 465.46,1057.24 468.12,1057.25 C470.78,1057.26 473.44,1057.26 476.10,1057.27 C478.76,1057.28 481.42,1057.29 484.08,1057.29 C486.74,1057.30 489.40,1057.31 492.06,1057.32 C494.72,1057.32 497.38,1057.33 500.04,1057.34 C502.70,1057.35 505.36,1057.36 508.02,1057.37 C510.69,1057.38 513.35,1057.39 516.01,1057.40 C518.67,1057.40 521.33,1057.41 523.99,1057.42 C526.65,1057.43 529.31,1057.44 531.97,1057.45 C534.63,1057.47 537.29,1057.48 539.95,1057.49 C542.61,1057.50 545.27,1057.51 547.93,1057.52 C550.59,1057.53 553.25,1057.54 555.91,1057.56 C558.57,1057.57 561.23,1057.58 563.89,1057.59 C566.55,1057.61 569.21,1057.62 571.87,1057.63 C574.53,1057.65 577.19,1057.66 579.85,1057.68 C582.51,1057.69 585.17,1057.71 587.83,1057.72 C590.49,1057.74 593.15,1057.75 595.81,1057.77 C598.47,1057.78 601.13,1057.80 603.79,1057.82 C606.45,1057.83 609.11,1057.85 611.77,1057.87 C614.43,1057.88 617.09,1057.90 619.75,1057.92 C622.41,1057.94 625.07,1057.96 627.73,1057.98 C630.39,1058.00 633.05,1058.02 635.71,1058.04 C638.37,1058.06 641.03,1058.08 643.69,1058.10 C646.35,1058.12 649.01,1058.14 651.67,1058.16 C654.34,1058.18 657.00,1058.21 659.66,1058.23 C662.32,1058.25 664.98,1058.28 667.64,1058.30 C670.30,1058.32 672.96,1058.35 675.62,1058.37 C678.28,1058.40 680.94,1058.42 683.60,1058.45 C686.26,1058.47 688.92,1058.50 691.58,1058.52 C694.24,1058.55 696.90,1058.58 699.56,1058.60 C702.22,1058.63 704.88,1058.66 707.54,1058.69 C710.20,1058.71 712.86,1058.74 715.52,1058.77 C718.18,1058.80 720.84,1058.83 723.50,1058.86 C726.16,1058.88 728.82,1058.91 731.48,1058.94 C734.14,1058.97 736.80,1059.00 739.46,1059.03 C742.12,1059.06 744.78,1059.09 747.44,1059.12 C750.10,1059.15 752.76,1059.17 755.42,1059.20 C758.08,1059.23 760.74,1059.26 763.40,1059.29 C766.06,1059.32 768.72,1059.34 771.38,1059.37 C774.04,1059.40 776.70,1059.43 779.36,1059.45 C782.02,1059.48 784.68,1059.50 787.34,1059.53 C790.00,1059.55 792.66,1059.57 795.33,1059.59 C797.99,1059.62 800.65,1059.64 803.31,1059.66 C805.97,1059.67 808.63,1059.69 811.29,1059.71 C813.95,1059.72 816.61,1059.74 819.27,1059.75 C821.93,1059.76 824.59,1059.77 827.25,1059.77 C829.91,1059.78 832.57,1059.78 835.23,1059.78 C837.89,1059.78 840.55,1059.78 843.21,1059.77 C845.87,1059.76 848.53,1059.75 851.19,1059.74 C853.85,1059.72 856.51,1059.70 859.17,1059.68 C861.83,1059.65 864.49,1059.62 867.15,1059.59 C869.81,1059.55 872.47,1059.51 875.13,1059.46 C877.79,1059.42 880.45,1059.36 883.11,1059.30 C885.77,1059.24 888.43,1059.17 891.09,1059.09 C893.75,1059.02 896.41,1058.93 899.07,1058.84 C901.73,1058.74 904.39,1058.64 907.05,1058.52 C909.71,1058.41 912.37,1058.28 915.03,1058.15 C917.69,1058.01 920.35,1057.86 923.01,1057.70 C925.67,1057.54 928.33,1057.37 930.99,1057.18 C933.65,1056.99 936.31,1056.79 938.98,1056.57 C941.64,1056.36 944.30,1056.12 946.96,1055.87 C949.62,1055.62 952.28,1055.35 954.94,1055.07 C957.60,1054.78 960.26,1054.47 962.92,1054.14 C965.58,1053.82 968.24,1053.47 970.90,1053.10 C973.56,1052.73 976.22,1052.33 978.88,1051.91 C981.54,1051.49 984.20,1051.05 986.86,1050.57 C989.52,1050.10 992.18,1049.60 994.84,1049.07 C997.50,1048.54 1000.16,1047.98 1002.82,1047.38 C1005.48,1046.79 1008.14,1046.16 1010.80,1045.50 C1013.46,1044.84 1016.12,1044.14 1018.78,1043.41 C1021.44,1042.67 1024.10,1041.90 1026.76,1041.09 C1029.42,1040.27 1032.08,1039.42 1034.74,1038.52 C1037.40,1037.62 1040.06,1036.68 1042.72,1035.68 C1045.38,1034.69 1048.04,1033.66 1050.70,1032.57 C1053.36,1031.48 1056.02,1030.35 1058.68,1029.16 C1061.34,1027.97 1064.00,1026.73 1066.66,1025.43 C1069.32,1024.13 1071.98,1022.78 1074.64,1021.37 C1077.30,1019.96 1079.96,1018.49 1082.62,1016.96 C1085.29,1015.44 1087.95,1013.85 1090.61,1012.20 C1093.27,1010.55 1095.93,1008.84 1098.59,1007.07 C1101.25,1005.30 1103.91,1003.47 1106.57,1001.57 C1109.23,999.68 1111.89,997.72 1114.55,995.70 C1117.21,993.68 1119.87,991.60 1122.53,989.46 C1125.19,987.32 1127.85,985.13 1130.51,982.88 C1133.17,980.63 1135.83,978.32 1138.49,975.97 C1141.15,973.61 1143.81,971.21 1146.47,968.78 C1149.13,966.34 1151.79,963.86 1154.45,961.36 C1157.11,958.86 1159.77,956.33 1162.43,953.80 C1165.09,951.26 1167.75,948.72 1170.41,946.19 C1173.07,943.66 1175.73,941.14 1178.39,938.66 C1181.05,936.18 1183.71,933.74 1186.37,931.36 C1189.03,928.99 1191.69,926.69 1194.35,924.48 C1197.01,922.28 1199.67,920.17 1202.33,918.21 C1204.99,916.24 1207.65,914.41 1210.31,912.76 C1212.97,911.10 1215.63,909.62 1218.29,908.34 C1220.95,907.06 1223.61,905.98 1226.28,905.14 C1228.94,904.30 1231.60,903.69 1234.26,903.33 C1236.92,902.98 1239.58,902.87 1242.24,903.03 C1244.90,903.18 1247.56,903.60 1250.22,904.26 C1252.88,904.92 1255.54,905.83 1258.20,906.98 C1260.86,908.13 1263.52,909.51 1266.18,911.11 C1268.84,912.71 1271.50,914.52 1274.16,916.52 C1276.82,918.51 1279.48,920.69 1282.14,923.03 C1284.80,925.36 1287.46,927.84 1290.12,930.45 C1292.78,933.05 1295.44,935.77 1298.10,938.57 C1300.76,941.37 1303.42,944.26 1306.08,947.20 C1308.74,950.13 1311.40,953.12 1314.06,956.14 C1316.72,959.15 1319.38,962.19 1322.04,965.23 C1324.70,968.27 1327.36,971.31 1330.02,974.33 C1332.68,977.35 1335.34,980.36 1338.00,983.33 C1340.66,986.30 1343.32,989.23 1345.98,992.12 C1348.64,995.02 1351.30,997.86 1353.96,1000.66 C1356.62,1003.45 1359.28,1006.19 1361.94,1008.87 C1364.60,1011.55 1367.26,1014.17 1369.92,1016.73 C1372.59,1019.28 1375.25,1021.77 1377.91,1024.20 C1380.57,1026.63 1383.23,1028.98 1385.89,1031.28 C1388.55,1033.57 1391.21,1035.79 1393.87,1037.94 C1396.53,1040.10 1399.19,1042.18 1401.85,1044.20 C1404.51,1046.22 1407.17,1048.17 1409.83,1050.05 C1412.49,1051.94 1415.15,1053.75 1417.81,1055.51 C1420.47,1057.26 1423.13,1058.95 1425.79,1060.58 C1428.45,1062.20 1431.11,1063.77 1433.77,1065.28 C1436.43,1066.78 1439.09,1068.23 1441.75,1069.63 C1444.41,1071.02 1447.07,1072.36 1449.73,1073.64 C1452.39,1074.93 1455.05,1076.17 1457.71,1077.35 C1460.37,1078.54 1463.03,1079.68 1465.69,1080.77 C1468.35,1081.87 1471.01,1082.91 1473.67,1083.92 C1476.33,1084.93 1478.99,1085.90 1481.65,1086.82 C1484.31,1087.75 1486.97,1088.64 1489.63,1089.49 C1492.29,1090.35 1494.95,1091.17 1497.61,1091.96 C1500.27,1092.74 1502.93,1093.50 1505.59,1094.22 C1508.25,1094.95 1510.91,1095.64 1513.58,1096.31 C1516.24,1096.98 1518.90,1097.63 1521.56,1098.24 C1524.22,1098.86 1526.88,1099.46 1529.54,1100.03 C1532.20,1100.60 1534.86,1101.15 1537.52,1101.68 C1540.18,1102.21 1542.84,1102.72 1545.50,1103.21 C1548.16,1103.70 1550.82,1104.17 1553.48,1104.63 C1556.14,1105.09 1558.80,1105.53 1561.46,1105.95 C1564.12,1106.37 1566.78,1106.78 1569.44,1107.18 C1572.10,1107.58 1574.76,1107.96 1577.42,1108.33 C1580.08,1108.70 1582.74,1109.06 1585.40,1109.40"/>
<path class="c" stroke="#000080" d="M436.20,1060.85 C438.86,1060.88 441.52,1060.91 444.18,1060.94 C446.84,1060.97 449.50,1061.01 452.16,1061.04 C454.82,1061.07 457.48,1061.10 460.14,1061.13 C462.80,1061.17 465.46,1061.20 468.12,1061.23 C470.78,1061.27 473.44,1061.30 476.10,1061.34 C478.76,1061.37 481.42,1061.41 484.08,1061.44 C486.74,1061.48 489.40,1061.52 492.06,1061.55 C494.72,1061.59 497.38,1061.63 500.04,1061.67 C502.70,1061.71 505.36,1061.75 508.02,1061.79 C510.69,1061.83 513.35,1061.87 516.01,1061.91 C518.67,1061.95 521.33,1061.99 523.99,1062.04 C526.65,1062.08 529.31,1062.12 531.97,1062.17 C534.63,1062.21 537.29,1062.26 539.95,1062.31 C542.61,1062.35 545.27,1062.40 547.93,1062.45 C550.59,1062.50 553.25,1062.55 555.91,1062.60 C558.57,1062.65 561.23,1062.70 563.89,1062.75 C566.55,1062.80 569.21,1062.86 571.87,1062.91 C574.53,1062.96 577.19,1063.02 579.85,1063.08 C582.51,1063.13 585.17,1063.19 587.83,1063.25 C590.49,1063.31 593.15,1063.37 595.81,1063.43 C598.47,1063.49 601.13,1063.55 603.79,1063.61 C606.45,1063.68 609.11,1063.74 611.77,1063.81 C614.43,1063.87 617.09,1063.94 619.75,1064.01 C622.41,1064.08 625.07,1064.15 627.73,1064.22 C630.39,1064.29 633.05,1064.36 635.71,1064.44 C638.37,1064.51 641.03,1064.59 643.69,1064.67 C646.35,1064.74 649.01,1064.82 651.67,1064.90 C654.34,1064.98 657.00,1065.06 659.66,1065.15 C662.32,1065.23 664.98,1065.32 667.64,1065.40 C670.30,1065.49 672.96,1065.58 675.62,1065.67 C678.28,1065.76 680.94,1065.85 683.60,1065.94 C686.26,1066.04 688.92,1066.13 691.58,1066.23 C694.24,1066.33 696.90,1066.43 699.56,1066.53 C702.22,1066.63 704.88,1066.73 707.54,1066.84 C710.20,1066.94 712.86,1067.05 715.52,1067.16 C718.18,1067.27 720.84,1067.38 723.50,1067.49 C726.16,1067.60 728.82,1067.72 731.48,1067.84 C734.14,1067.95 736.80,1068.07 739.46,1068.19 C742.12,1068.31 744.78,1068.44 747.44,1068.56 C750.10,1068.69 752.76,1068.81 755.42,1068.94 C758.08,1069.07 760.74,1069.20 763.40,1069.34 C766.06,1069.47 768.72,1069.60 771.38,1069.74 C774.04,1069.88 776.70,1070.02 779.36,1070.16 C782.02,1070.30 784.68,1070.44 787.34,1070.59 C790.00,1070.73 792.66,1070.88 795.33,1071.03 C797.99,1071.18 800.65,1071.33 803.31,1071.48 C805.97,1071.63 808.63,1071.79 811.29,1071.94 C813.95,1072.10 816.61,1072.26 819.27,1072.42 C821.93,1072.58 824.59,1072.74 827.25,1072.90 C829.91,1073.06 832.57,1073.23 835.23,1073.39 C837.89,1073.56 840.55,1073.72 843.21,1073.89 C845.87,1074.06 848.53,1074.23 851.19,1074.39 C853.85,1074.56 856.51,1074.73 859.17,1074.91 C861.83,1075.08 864.49,1075.25 867.15,1075.42 C869.81,1075.59 872.47,1075.77 875.13,1075.94 C877.79,1076.11 880.45,1076.29 883.11,1076.46 C885.77,1076.64 888.43,1076.81 891.09,1076.98 C893.75,1077.16 896.41,1077.33 899.07,1077.51 C901.73,1077.68 904.39,1077.85 907.05,1078.03 C909.71,1078.20 912.37,1078.38 915.03,1078.55 C917.69,1078.72 920.35,1078.89 923.01,1079.07 C925.67,1079.24 928.33,1079.41 930.99,1079.58 C933.65,1079.75 936.31,1079.92 938.98,1080.09 C941.64,1080.26 944.30,1080.43 946.96,1080.60 C949.62,1080.76 952.28,1080.93 954.94,1081.10 C957.60,1081.26 960.26,1081.43 962.92,1081.59 C965.58,1081.76 968.24,1081.92 970.90,1082.08 C973.56,1082.25 976.22,1082.41 978.88,1082.57 C981.54,1082.73 984.20,1082.89 986.86,1083.05 C989.52,1083.21 992.18,1083.36 994.84,1083.52 C997.50,1083.68 1000.16,1083.83 1002.82,1083.99 C1005.48,1084.14 1008.14,1084.30 1010.80,1084.45 C1013.46,1084.61 1016.12,1084.76 1018.78,1084.91 C1021.44,1085.06 1024.10,1085.22 1026.76,1085.37 C1029.42,1085.52 1032.08,1085.67 1034.74,1085.82 C1037.40,1085.97 1040.06,1086.12 1042.72,1086.27 C1045.38,1086.42 1048.04,1086.57 1050.70,1086.72 C1053.36,1086.87 1056.02,1087.02 1058.68,1087.17 C1061.34,1087.32 1064.00,1087.47 1066.66,1087.62 C1069.32,1087.77 1071.98,1087.92 1074.64,1088.07 C1077.30,1088.22 1079.96,1088.37 1082.62,1088.52 C1085.29,1088.68 1087.95,1088.83 1090.61,1088.98 C1093.27,1089.13 1095.93,1089.29 1098.59,1089.44 C1101.25,1089.60 1103.91,1089.75 1106.57,1089.91 C1109.23,1090.07 1111.89,1090.23 1114.55,1090.38 C1117.21,1090.54 1119.87,1090.70 1122.53,1090.87 C1125.19,1091.03 1127.85,1091.19 1130.51,1091.35 C1133.17,1091.52 1135.83,1091.68 1138.49,1091.85 C1141.15,1092.01 1143.81,1092.18 1146.47,1092.35 C1149.13,1092.52 1151.79,1092.68 1154.45,1092.85 C1157.11,1093.02 1159.77,1093.19 1162.43,1093.36 C1165.09,1093.53 1167.75,1093.70 1170.41,1093.86 C1173.07,1094.03 1175.73,1094.20 1178.39,1094.36 C1181.05,1094.52 1183.71,1094.68 1186.37,1094.84 C1189.03,1095.00 1191.69,1095.15 1194.35,1095.29 C1197.01,1095.44 1199.67,1095.58 1202.33,1095.71 C1204.99,1095.83 1207.65,1095.95 1210.31,1096.06 C1212.97,1096.17 1215.63,1096.26 1218.29,1096.33 C1220.95,1096.41 1223.61,1096.46 1226.28,1096.50 C1228.94,1096.53 1231.60,1096.55 1234.26,1096.53 C1236.92,1096.51 1239.58,1096.47 1242.24,1096.39 C1244.90,1096.31 1247.56,1096.19 1250.22,1096.04 C1252.88,1095.88 1255.54,1095.69 1258.20,1095.44 C1260.86,1095.20 1263.52,1094.91 1266.18,1094.56 C1268.84,1094.22 1271.50,1093.82 1274.16,1093.36 C1276.82,1092.90 1279.48,1092.38 1282.14,1091.80 C1284.80,1091.22 1287.46,1090.58 1290.12,1089.87 C1292.78,1089.16 1295.44,1088.38 1298.10,1087.54 C1300.76,1086.70 1303.42,1085.79 1306.08,1084.82 C1308.74,1083.85 1311.40,1082.82 1314.06,1081.74 C1316.72,1080.65 1319.38,1079.51 1322.04,1078.33 C1324.70,1077.15 1327.36,1075.93 1330.02,1074.69 C1332.68,1073.46 1335.34,1072.20 1338.00,1070.96 C1340.66,1069.72 1343.32,1068.49 1345.98,1067.31 C1348.64,1066.14 1351.30,1065.03 1353.96,1064.02 C1356.62,1063.01 1359.28,1062.11 1361.94,1061.37 C1364.60,1060.63 1367.26,1060.05 1369.92,1059.68 C1372.59,1059.31 1375.25,1059.15 1377.91,1059.21 C1380.57,1059.28 1383.23,1059.57 1385.89,1060.14 C1388.55,1060.71 1391.21,1061.53 1393.87,1062.57 C1396.53,1063.61 1399.19,1064.87 1401.85,1066.29 C1404.51,1067.70 1407.17,1069.27 1409.83,1070.93 C1412.49,1072.59 1415.15,1074.33 1417.81,1076.11 C1420.47,1077.89 1423.13,1079.69 1425.79,1081.49 C1428.45,1083.29 1431.11,1085.07 1433.77,1086.81 C1436.43,1088.55 1439.09,1090.25 1441.75,1091.88 C1444.41,1093.52 1447.07,1095.09 1449.73,1096.60 C1452.39,1098.10 1455.05,1099.53 1457.71,1100.88 C1460.37,1102.24 1463.03,1103.52 1465.69,1104.72 C1468.35,1105.92 1471.01,1107.05 1473.67,1108.10 C1476.33,1109.16 1478.99,1110.14 1481.65,1111.05 C1484.31,1111.96 1486.97,1112.81 1489.63,1113.59 C1492.29,1114.37 1494.95,1115.10 1497.61,1115.76 C1500.27,1116.43 1502.93,1117.05 1505.59,1117.61 C1508.25,1118.18 1510.91,1118.70 1513.58,1119.18 C1516.24,1119.66 1518.90,1120.10 1521.56,1120.51 C1524.22,1120.92 1526.88,1121.29 1529.54,1121.64 C1532.20,1121.98 1534.86,1122.30 1537.52,1122.60 C1540.18,1122.90 1542.84,1123.17 1545.50,1123.43 C1548.16,1123.68 1550.82,1123.92 1553.48,1124.14 C1556.14,1124.36 1558.80,1124.57 1561.46,1124.77 C1564.12,1124.96 1566.78,1125.15 1569.44,1125.32 C1572.10,1125.50 1574.76,1125.66 1577.42,1125.82 C1580.08,1125.97 1582.74,1126.12 1585.40,1126.26"/>
<path class="c" stroke="#000080" d="M436.20,1038.46 C438.86,1038.25 441.52,1038.05 444.18,1037.83 C446.84,1037.62 449.50,1037.40 452.16,1037.17 C454.82,1036.95 457.48,1036.72 460.14,1036.48 C462.80,1036.24 465.46,1036.00 468.12,1035.75 C470.78,1035.50 473.44,1035.25 476.10,1034.98 C478.76,1034.72 481.42,1034.45 484.08,1034.18 C486.74,1033.90 489.40,1033.62 492.06,1033.33 C494.72,1033.04 497.38,1032.75 500.04,1032.44 C502.70,1032.14 505.36,1031.83 508.02,1031.51 C510.69,1031.19 513.35,1030.86 516.01,1030.52 C518.67,1030.19 521.33,1029.84 523.99,1029.49 C526.65,1029.14 529.31,1028.78 531.97,1028.41 C534.63,1028.04 537.29,1027.66 539.95,1027.27 C542.61,1026.88 545.27,1026.48 547.93,1026.07 C550.59,1025.67 553.25,1025.25 555.91,1024.82 C558.57,1024.40 561.23,1023.96 563.89,1023.51 C566.55,1023.06 569.21,1022.61 571.87,1022.14 C574.53,1021.67 577.19,1021.19 579.85,1020.70 C582.51,1020.21 585.17,1019.71 587.83,1019.20 C590.49,1018.69 593.15,1018.16 595.81,1017.63 C598.47,1017.09 601.13,1016.55 603.79,1015.99 C606.45,1015.43 609.11,1014.86 611.77,1014.28 C614.43,1013.70 617.09,1013.10 619.75,1012.50 C622.41,1011.89 625.07,1011.27 627.73,1010.64 C630.39,1010.01 633.05,1009.37 635.71,1008.71 C638.37,1008.06 641.03,1007.39 643.69,1006.71 C646.35,1006.03 649.01,1005.34 651.67,1004.64 C654.34,1003.93 657.00,1003.22 659.66,1002.49 C662.32,1001.76 664.98,1001.02 667.64,1000.26 C670.30,999.51 672.96,998.75 675.62,997.97 C678.28,997.19 680.94,996.41 683.60,995.61 C686.26,994.81 688.92,994.00 691.58,993.18 C694.24,992.36 696.90,991.53 699.56,990.69 C702.22,989.85 704.88,989.00 707.54,988.14 C710.20,987.28 712.86,986.41 715.52,985.54 C718.18,984.66 720.84,983.78 723.50,982.90 C726.16,982.01 728.82,981.11 731.48,980.22 C734.14,979.32 736.80,978.42 739.46,977.51 C742.12,976.61 744.78,975.70 747.44,974.79 C750.10,973.89 752.76,972.98 755.42,972.08 C758.08,971.17 760.74,970.27 763.40,969.37 C766.06,968.48 768.72,967.59 771.38,966.70 C774.04,965.82 776.70,964.95 779.36,964.08 C782.02,963.22 784.68,962.37 787.34,961.54 C790.00,960.70 792.66,959.88 795.33,959.08 C797.99,958.28 800.65,957.50 803.31,956.74 C805.97,955.98 808.63,955.25 811.29,954.54 C813.95,953.83 816.61,953.15 819.27,952.49 C821.93,951.84 824.59,951.22 827.25,950.63 C829.91,950.05 832.57,949.49 835.23,948.98 C837.89,948.46 840.55,947.98 843.21,947.55 C845.87,947.11 848.53,946.71 851.19,946.35 C853.85,946.00 856.51,945.68 859.17,945.41 C861.83,945.14 864.49,944.91 867.15,944.73 C869.81,944.55 872.47,944.41 875.13,944.32 C877.79,944.22 880.45,944.17 883.11,944.16 C885.77,944.15 888.43,944.18 891.09,944.25 C893.75,944.31 896.41,944.42 899.07,944.56 C901.73,944.70 904.39,944.87 907.05,945.08 C909.71,945.29 912.37,945.53 915.03,945.79 C917.69,946.06 920.35,946.36 923.01,946.68 C925.67,947.00 928.33,947.35 930.99,947.72 C933.65,948.08 936.31,948.47 938.98,948.87 C941.64,949.27 944.30,949.68 946.96,950.11 C949.62,950.53 952.28,950.96 954.94,951.40 C957.60,951.84 960.26,952.28 962.92,952.72 C965.58,953.16 968.24,953.59 970.90,954.02 C973.56,954.45 976.22,954.87 978.88,955.28 C981.54,955.69 984.20,956.09 986.86,956.46 C989.52,956.84 992.18,957.20 994.84,957.53 C997.50,957.86 1000.16,958.17 1002.82,958.45 C1005.48,958.73 1008.14,958.98 1010.80,959.20 C1013.46,959.41 1016.12,959.59 1018.78,959.73 C1021.44,959.87 1024.10,959.97 1026.76,960.02 C1029.42,960.08 1032.08,960.09 1034.74,960.05 C1037.40,960.01 1040.06,959.92 1042.72,959.77 C1045.38,959.63 1048.04,959.43 1050.70,959.18 C1053.36,958.92 1056.02,958.61 1058.68,958.23 C1061.34,957.85 1064.00,957.42 1066.66,956.91 C1069.32,956.41 1071.98,955.84 1074.64,955.20 C1077.30,954.56 1079.96,953.85 1082.62,953.07 C1085.29,952.29 1087.95,951.44 1090.61,950.51 C1093.27,949.59 1095.93,948.59 1098.59,947.51 C1101.25,946.44 1103.91,945.29 1106.57,944.06 C1109.23,942.84 1111.89,941.53 1114.55,940.16 C1117.21,938.78 1119.87,937.33 1122.53,935.81 C1125.19,934.28 1127.85,932.69 1130.51,931.02 C1133.17,929.35 1135.83,927.62 1138.49,925.82 C1141.15,924.03 1143.81,922.17 1146.47,920.26 C1149.13,918.34 1151.79,916.38 1154.45,914.37 C1157.11,912.37 1159.77,910.32 1162.43,908.25 C1165.09,906.17 1167.75,904.08 1170.41,901.98 C1173.07,899.87 1175.73,897.77 1178.39,895.68 C1181.05,893.60 1183.71,891.53 1186.37,889.51 C1189.03,887.50 1191.69,885.53 1194.35,883.64 C1197.01,881.75 1199.67,879.94 1202.33,878.24 C1204.99,876.55 1207.65,874.96 1210.31,873.53 C1212.97,872.09 1215.63,870.80 1218.29,869.68 C1220.95,868.56 1223.61,867.62 1226.28,866.88 C1228.94,866.14 1231.60,865.59 1234.26,865.26 C1236.92,864.93 1239.58,864.82 1242.24,864.92 C1244.90,865.02 1247.56,865.33 1250.22,865.85 C1252.88,866.36 1255.54,867.08 1258.20,867.97 C1260.86,868.87 1263.52,869.95 1266.18,871.18 C1268.84,872.42 1271.50,873.81 1274.16,875.32 C1276.82,876.83 1279.48,878.46 1282.14,880.17 C1284.80,881.89 1287.46,883.69 1290.12,885.54 C1292.78,887.38 1295.44,889.28 1298.10,891.19 C1300.76,893.10 1303.42,895.03 1306.08,896.94 C1308.74,898.85 1311.40,900.75 1314.06,902.62 C1316.72,904.49 1319.38,906.32 1322.04,908.12 C1324.70,909.91 1327.36,911.67 1330.02,913.38 C1332.68,915.10 1335.34,916.77 1338.00,918.43 C1340.66,920.08 1343.32,921.71 1345.98,923.36 C1348.64,925.00 1351.30,926.65 1353.96,928.36 C1356.62,930.06 1359.28,931.82 1361.94,933.68 C1364.60,935.54 1367.26,937.50 1369.92,939.60 C1372.59,941.70 1375.25,943.95 1377.91,946.36 C1380.57,948.77 1383.23,951.34 1385.89,954.12 C1388.55,956.89 1391.21,959.86 1393.87,962.98 C1396.53,966.10 1399.19,969.38 1401.85,972.74 C1404.51,976.10 1407.17,979.55 1409.83,983.03 C1412.49,986.51 1415.15,990.02 1417.81,993.50 C1420.47,996.97 1423.13,1000.42 1425.79,1003.80 C1428.45,1007.17 1431.11,1010.48 1433.77,1013.69 C1436.43,1016.90 1439.09,1020.01 1441.75,1023.01 C1444.41,1026.01 1447.07,1028.89 1449.73,1031.66 C1452.39,1034.43 1455.05,1037.07 1457.71,1039.59 C1460.37,1042.12 1463.03,1044.52 1465.69,1046.81 C1468.35,1049.09 1471.01,1051.25 1473.67,1053.31 C1476.33,1055.36 1478.99,1057.30 1481.65,1059.14 C1484.31,1060.98 1486.97,1062.71 1489.63,1064.35 C1492.29,1065.98 1494.95,1067.53 1497.61,1068.99 C1500.27,1070.44 1502.93,1071.82 1505.59,1073.11 C1508.25,1074.41 1510.91,1075.63 1513.58,1076.79 C1516.24,1077.95 1518.90,1079.04 1521.56,1080.07 C1524.22,1081.11 1526.88,1082.08 1529.54,1083.01 C1532.20,1083.94 1534.86,1084.82 1537.52,1085.65 C1540.18,1086.49 1542.84,1087.28 1545.50,1088.04 C1548.16,1088.80 1550.82,1089.52 1553.48,1090.21 C1556.14,1090.90 1558.80,1091.56 1561.46,1092.19 C1564.12,1092.82 1566.78,1093.43 1569.44,1094.01 C1572.10,1094.59 1574.76,1095.15 1577.42,1095.69 C1580.08,1096.23 1582.74,1096.74 1585.40,1097.25"/>
<rect class="k" x="784" y="336" width="6.00" height="156.00"/>
<rect class="k" x="1175" y="116" width="7.00" height="131.00"/>
<rect class="k" x="877" y="878" width="6.00" height="130.00"/>
<rect class="k" x="1246" y="823" width="6.00" height="131.00"/>
<rect class="k" x="1380" y="986" width="7.00" height="130.00"/>
<rect class="k" x="206" y="61" width="4.00" height="1133.00"/>
<rect class="k" x="1654" y="61" width="3.00" height="1133.00"/>
<rect class="k" x="206" y="61" width="1451.00" height="3.00"/>
<rect class="k" x="206" y="1191" width="1451.00" height="3.00"/>
<rect class="k" x="332" y="1192" width="3.00" height="30.00"/>
<rect class="k" x="489" y="1192" width="3.00" height="15.00"/>
<rect class="k" x="647" y="1192" width="3.00" height="30.00"/>
<rect class="k" x="804" y="1192" width="3.00" height="15.00"/>
<rect class="k" x="962" y="1192" width="3.00" height="30.00"/>
<rect class="k" x="1119" y="1192" width="3.00" height="15.00"/>
<rect class="k" x="1276" y="1192" width="3.00" height="30.00"/>
<rect class="k" x="1434" y="1192" width="3.00" height="15.00"/>
<rect class="k" x="1591" y="1192" width="3.00" height="30.00"/>
<text transform="translate(334.1,1305.6) scale(1,1.043)" font-size="83.5" text-anchor="middle">870</text>
<text transform="translate(648.9,1305.6) scale(1,1.043)" font-size="83.5" text-anchor="middle">865</text>
<text transform="translate(963.6,1305.6) scale(1,1.043)" font-size="83.5" text-anchor="middle">860</text>
<text transform="translate(1278.3,1305.6) scale(1,1.043)" font-size="83.5" text-anchor="middle">855</text>
<text transform="translate(1593.1,1305.6) scale(1,1.043)" font-size="83.5" text-anchor="middle">850</text>
<text transform="translate(946.1,1399.4) scale(1.017,1)" font-size="84" text-anchor="middle">B.E., eV</text>
<text transform="translate(106.3,625.8) rotate(-90) scale(1.006,1.03)" font-size="86" text-anchor="middle">Intensity, a.u.</text>
<text transform="translate(239.1,176.8) scale(1.008,1)" font-size="86">Ni 2p<tspan font-size="57.4" dy="-39.3" dx="-1.5">3/2</tspan></text>
<text transform="translate(234.4,361.5) scale(1.004,1)" font-size="68.4">Calcinated Ni/SiO<tspan font-size="45.8" dy="20.5">2</tspan></text>
<text x="244.5" y="806.5" font-size="68.4">Reduced Ni/SiO<tspan font-size="45.8" dy="20.5">2</tspan></text>
<text x="1203.8" y="141.5" font-size="58.6">Ni<tspan font-size="39.3" dy="18.8">3</tspan><tspan dy="-18.8">(Si</tspan><tspan font-size="39.3" dy="18.8">2</tspan><tspan dy="-18.8">O</tspan><tspan font-size="39.3" dy="18.8">5</tspan><tspan dy="-18.8">)(OH)</tspan><tspan font-size="39.3" dy="18.8">4</tspan></text>
<text transform="translate(757.3,861.2) scale(1.008,1)" font-size="57">Satellite peak</text>
<text transform="translate(1258.7,822.3) scale(1.05,1.03)" font-size="57">NiO</text>
<text transform="translate(1421.2,997.3) scale(1.05,1.0)" font-size="57">Ni</text>
</svg></body></html>
